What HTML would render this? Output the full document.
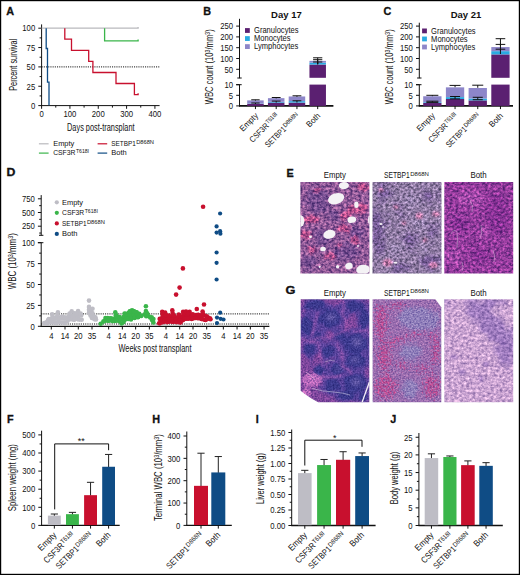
<!DOCTYPE html>
<html><head><meta charset="utf-8"><title>Figure</title>
<style>
html,body{margin:0;padding:0;background:#fff;}
body{width:520px;height:575px;overflow:hidden;position:relative;}
svg{display:block;position:absolute;left:0;top:0;}
text{font-family:"Liberation Sans",sans-serif;fill:#111;}
</style></head><body>
<svg width="520" height="575" viewBox="0 0 520 575">
<rect x="0" y="0" width="520" height="575" fill="#fff"/>
<text transform="translate(6.30 15.10)" font-size="10.8" font-weight="bold" stroke="#111" stroke-width="0.3">A</text>
<line x1="41.60" y1="24.40" x2="41.60" y2="106.10" stroke="#111" stroke-width="1"/>
<line x1="41.10" y1="105.60" x2="159.60" y2="105.60" stroke="#111" stroke-width="1"/>
<line x1="38.30" y1="105.60" x2="41.60" y2="105.60" stroke="#111" stroke-width="1"/>
<text transform="translate(35.20 108.87) scale(0.84 1)" font-size="9.2" text-anchor="end">0</text>
<line x1="38.30" y1="86.25" x2="41.60" y2="86.25" stroke="#111" stroke-width="1"/>
<text transform="translate(35.20 89.52) scale(0.84 1)" font-size="9.2" text-anchor="end">25</text>
<line x1="38.30" y1="66.90" x2="41.60" y2="66.90" stroke="#111" stroke-width="1"/>
<text transform="translate(35.20 70.17) scale(0.84 1)" font-size="9.2" text-anchor="end">50</text>
<line x1="38.30" y1="47.55" x2="41.60" y2="47.55" stroke="#111" stroke-width="1"/>
<text transform="translate(35.20 50.82) scale(0.84 1)" font-size="9.2" text-anchor="end">75</text>
<line x1="38.30" y1="28.20" x2="41.60" y2="28.20" stroke="#111" stroke-width="1"/>
<text transform="translate(35.20 31.47) scale(0.84 1)" font-size="9.2" text-anchor="end">100</text>
<line x1="39.60" y1="95.92" x2="41.60" y2="95.92" stroke="#111" stroke-width="1"/>
<line x1="39.60" y1="76.58" x2="41.60" y2="76.58" stroke="#111" stroke-width="1"/>
<line x1="39.60" y1="57.23" x2="41.60" y2="57.23" stroke="#111" stroke-width="1"/>
<line x1="39.60" y1="37.88" x2="41.60" y2="37.88" stroke="#111" stroke-width="1"/>
<line x1="41.60" y1="105.60" x2="41.60" y2="108.80" stroke="#111" stroke-width="1"/>
<text transform="translate(41.60 116.70) scale(0.84 1)" font-size="9.2" text-anchor="middle">0</text>
<line x1="69.93" y1="105.60" x2="69.93" y2="108.80" stroke="#111" stroke-width="1"/>
<text transform="translate(69.93 116.70) scale(0.84 1)" font-size="9.2" text-anchor="middle">100</text>
<line x1="98.26" y1="105.60" x2="98.26" y2="108.80" stroke="#111" stroke-width="1"/>
<text transform="translate(98.26 116.70) scale(0.84 1)" font-size="9.2" text-anchor="middle">200</text>
<line x1="126.59" y1="105.60" x2="126.59" y2="108.80" stroke="#111" stroke-width="1"/>
<text transform="translate(126.59 116.70) scale(0.84 1)" font-size="9.2" text-anchor="middle">300</text>
<line x1="154.92" y1="105.60" x2="154.92" y2="108.80" stroke="#111" stroke-width="1"/>
<text transform="translate(154.92 116.70) scale(0.84 1)" font-size="9.2" text-anchor="middle">400</text>
<line x1="55.77" y1="105.60" x2="55.77" y2="107.60" stroke="#111" stroke-width="1"/>
<line x1="84.09" y1="105.60" x2="84.09" y2="107.60" stroke="#111" stroke-width="1"/>
<line x1="112.43" y1="105.60" x2="112.43" y2="107.60" stroke="#111" stroke-width="1"/>
<line x1="140.75" y1="105.60" x2="140.75" y2="107.60" stroke="#111" stroke-width="1"/>
<line x1="41.60" y1="66.90" x2="160.40" y2="66.90" stroke="#111" stroke-width="1" stroke-dasharray="1.1 1.1"/>
<polyline points="41.60,28.20 138.10,28.20 138.10,27.00" fill="none" stroke="#b9b9bd" stroke-width="1.3" stroke-linejoin="miter"/>
<polyline points="104.60,28.20 104.60,40.80 138.10,40.80 138.10,39.60" fill="none" stroke="#3ab54a" stroke-width="1.3" stroke-linejoin="miter"/>
<polyline points="64.80,28.20 64.80,39.20 71.50,39.20 71.50,50.40 88.70,50.40 88.70,61.30 92.90,61.30 92.90,72.50 116.00,72.50 116.00,83.50 134.40,83.50 134.40,94.60 138.10,94.60 138.10,93.20" fill="none" stroke="#c8102e" stroke-width="1.3" stroke-linejoin="miter"/>
<polyline points="46.20,28.20 46.20,48.50 47.50,48.50 47.50,82.10 49.00,82.10 49.00,105.20" fill="none" stroke="#0f4c85" stroke-width="1.3" stroke-linejoin="miter"/>
<text transform="translate(100.80 131.00)" font-size="10.6" text-anchor="middle" textLength="67.50" lengthAdjust="spacingAndGlyphs">Days post-transplant</text>
<line x1="38.90" y1="143.80" x2="48.60" y2="143.80" stroke="#b9b9bd" stroke-width="1.2"/>
<g transform="translate(53.20 146.10)"><text transform="translate(0.00 0) scale(0.93 1)" font-size="8.0">Empty</text></g>
<line x1="38.90" y1="153.10" x2="48.60" y2="153.10" stroke="#3ab54a" stroke-width="1.2"/>
<g transform="translate(53.20 155.20)"><text transform="translate(0.00 0) scale(0.85 1)" font-size="8.0">CSF3R</text><text transform="translate(22.69 -2.32) scale(0.87 1)" font-size="5.92">T618I</text></g>
<line x1="97.60" y1="143.80" x2="107.20" y2="143.80" stroke="#c8102e" stroke-width="1.2"/>
<g transform="translate(111.20 146.10)"><text transform="translate(0.00 0) scale(0.8 1)" font-size="8.0">SETBP1</text><text transform="translate(24.94 -2.32) scale(0.97 1)" font-size="5.92">D868N</text></g>
<line x1="97.60" y1="153.10" x2="107.20" y2="153.10" stroke="#0f4c85" stroke-width="1.2"/>
<g transform="translate(111.20 155.20)"><text transform="translate(0.00 0) scale(0.94 1)" font-size="8.0">Both</text></g>
<text transform="translate(16.60 64.80) rotate(-90)" font-size="10.4" text-anchor="middle" textLength="52.00" lengthAdjust="spacingAndGlyphs">Percent survival</text>
<text transform="translate(203.30 15.10)" font-size="10.8" font-weight="bold" stroke="#111" stroke-width="0.3">B</text>
<text transform="translate(286.40 17.60)" font-size="9.5" text-anchor="middle" font-weight="bold">Day 17</text>
<line x1="239.50" y1="18.80" x2="239.50" y2="78.20" stroke="#111" stroke-width="1"/>
<line x1="237.30" y1="78.00" x2="241.70" y2="78.00" stroke="#111" stroke-width="1"/>
<line x1="239.50" y1="84.70" x2="239.50" y2="106.40" stroke="#111" stroke-width="1"/>
<line x1="236.20" y1="84.70" x2="241.70" y2="84.70" stroke="#111" stroke-width="1"/>
<line x1="239.00" y1="105.90" x2="333.40" y2="105.90" stroke="#111" stroke-width="1.8"/>
<line x1="236.20" y1="69.30" x2="239.50" y2="69.30" stroke="#111" stroke-width="1"/>
<text transform="translate(233.10 72.57) scale(0.84 1)" font-size="9.2" text-anchor="end">50</text>
<line x1="236.20" y1="58.50" x2="239.50" y2="58.50" stroke="#111" stroke-width="1"/>
<text transform="translate(233.10 61.77) scale(0.84 1)" font-size="9.2" text-anchor="end">100</text>
<line x1="236.20" y1="47.70" x2="239.50" y2="47.70" stroke="#111" stroke-width="1"/>
<text transform="translate(233.10 50.97) scale(0.84 1)" font-size="9.2" text-anchor="end">150</text>
<line x1="236.20" y1="36.90" x2="239.50" y2="36.90" stroke="#111" stroke-width="1"/>
<text transform="translate(233.10 40.17) scale(0.84 1)" font-size="9.2" text-anchor="end">200</text>
<line x1="236.20" y1="26.10" x2="239.50" y2="26.10" stroke="#111" stroke-width="1"/>
<text transform="translate(233.10 29.37) scale(0.84 1)" font-size="9.2" text-anchor="end">250</text>
<line x1="236.20" y1="105.90" x2="239.50" y2="105.90" stroke="#111" stroke-width="1"/>
<text transform="translate(233.10 109.17) scale(0.84 1)" font-size="9.2" text-anchor="end">0</text>
<line x1="236.20" y1="95.30" x2="239.50" y2="95.30" stroke="#111" stroke-width="1"/>
<text transform="translate(233.10 98.57) scale(0.84 1)" font-size="9.2" text-anchor="end">5</text>
<line x1="236.20" y1="84.70" x2="239.50" y2="84.70" stroke="#111" stroke-width="1"/>
<text transform="translate(233.10 87.97) scale(0.84 1)" font-size="9.2" text-anchor="end">10</text>
<text transform="translate(213.20 66.80) rotate(-90)" font-size="10.4" text-anchor="middle" textLength="75.00" lengthAdjust="spacingAndGlyphs">WBC count (10<tspan dy="-3.2" font-size="7">3</tspan><tspan dy="3.2">/mm</tspan><tspan dy="-3.2" font-size="7">3</tspan><tspan dy="3.2">)</tspan></text>
<rect x="245.00" y="28.10" width="4.80" height="4.80" fill="#5b2071"/>
<text transform="translate(254.00 33.10) scale(0.9 1)" font-size="8.4">Granulocytes</text>
<rect x="245.00" y="36.15" width="4.80" height="4.80" fill="#29abe2"/>
<text transform="translate(254.00 41.15) scale(0.9 1)" font-size="8.4">Monocytes</text>
<rect x="245.00" y="44.20" width="4.80" height="4.80" fill="#8d86c9"/>
<text transform="translate(254.00 49.20) scale(0.9 1)" font-size="8.4">Lymphocytes</text>
<line x1="255.45" y1="105.90" x2="255.45" y2="109.10" stroke="#111" stroke-width="1"/>
<rect x="247.20" y="103.78" width="16.50" height="2.12" fill="#5b2071"/>
<rect x="247.20" y="103.46" width="16.50" height="0.32" fill="#29abe2"/>
<rect x="247.20" y="100.39" width="16.50" height="3.07" fill="#8d86c9"/>
<line x1="255.45" y1="99.80" x2="255.45" y2="100.60" stroke="#111" stroke-width="1"/>
<line x1="251.25" y1="99.80" x2="259.65" y2="99.80" stroke="#111" stroke-width="1"/>
<line x1="255.45" y1="103.00" x2="255.45" y2="104.00" stroke="#111" stroke-width="1"/>
<line x1="251.25" y1="103.00" x2="259.65" y2="103.00" stroke="#111" stroke-width="1"/>
<line x1="276.20" y1="105.90" x2="276.20" y2="109.10" stroke="#111" stroke-width="1"/>
<rect x="267.95" y="102.61" width="16.50" height="3.29" fill="#5b2071"/>
<rect x="267.95" y="101.77" width="16.50" height="0.85" fill="#29abe2"/>
<rect x="267.95" y="98.16" width="16.50" height="3.60" fill="#8d86c9"/>
<line x1="276.20" y1="97.50" x2="276.20" y2="98.40" stroke="#111" stroke-width="1"/>
<line x1="271.80" y1="97.50" x2="280.60" y2="97.50" stroke="#111" stroke-width="1"/>
<line x1="276.20" y1="101.10" x2="276.20" y2="102.60" stroke="#111" stroke-width="1"/>
<line x1="271.80" y1="101.10" x2="280.60" y2="101.10" stroke="#111" stroke-width="1"/>
<line x1="296.95" y1="105.90" x2="296.95" y2="109.10" stroke="#111" stroke-width="1"/>
<rect x="288.70" y="102.61" width="16.50" height="3.29" fill="#5b2071"/>
<rect x="288.70" y="101.13" width="16.50" height="1.48" fill="#29abe2"/>
<rect x="288.70" y="96.47" width="16.50" height="4.66" fill="#8d86c9"/>
<line x1="296.95" y1="95.80" x2="296.95" y2="96.80" stroke="#111" stroke-width="1"/>
<line x1="292.55" y1="95.80" x2="301.35" y2="95.80" stroke="#111" stroke-width="1"/>
<line x1="296.95" y1="100.80" x2="296.95" y2="102.50" stroke="#111" stroke-width="1"/>
<line x1="292.55" y1="100.80" x2="301.35" y2="100.80" stroke="#111" stroke-width="1"/>
<line x1="317.70" y1="105.90" x2="317.70" y2="109.10" stroke="#111" stroke-width="1"/>
<rect x="309.45" y="84.60" width="16.50" height="21.30" fill="#5b2071"/>
<rect x="309.45" y="64.55" width="16.50" height="13.25" fill="#5b2071"/>
<rect x="309.45" y="62.60" width="16.50" height="1.94" fill="#29abe2"/>
<rect x="309.45" y="60.88" width="16.50" height="1.73" fill="#8d86c9"/>
<line x1="317.70" y1="57.80" x2="317.70" y2="64.60" stroke="#111" stroke-width="1"/>
<line x1="313.10" y1="57.80" x2="322.30" y2="57.80" stroke="#111" stroke-width="1"/>
<line x1="317.70" y1="59.70" x2="317.70" y2="64.00" stroke="#111" stroke-width="1"/>
<line x1="313.10" y1="59.70" x2="322.30" y2="59.70" stroke="#111" stroke-width="1"/>
<line x1="317.70" y1="62.00" x2="317.70" y2="64.00" stroke="#111" stroke-width="1"/>
<line x1="313.10" y1="62.00" x2="322.30" y2="62.00" stroke="#111" stroke-width="1"/>
<g transform="translate(258.65 116.30) rotate(-45)"><text transform="translate(-22.14 0) scale(0.93 1)" font-size="8.4">Empty</text></g>
<g transform="translate(279.40 116.30) rotate(-45)"><text transform="translate(-37.63 0) scale(0.85 1)" font-size="8.4">CSF3R</text><text transform="translate(-13.83 -2.44) scale(0.87 1)" font-size="6.22">T618I</text></g>
<g transform="translate(300.15 116.30) rotate(-45)"><text transform="translate(-44.94 0) scale(0.8 1)" font-size="8.4">SETBP1</text><text transform="translate(-18.77 -2.44) scale(0.97 1)" font-size="6.22">D868N</text></g>
<g transform="translate(320.90 116.30) rotate(-45)"><text transform="translate(-16.24 0) scale(0.94 1)" font-size="8.4">Both</text></g>
<text transform="translate(383.40 15.10)" font-size="10.8" font-weight="bold" stroke="#111" stroke-width="0.3">C</text>
<text transform="translate(466.00 17.60)" font-size="9.5" text-anchor="middle" font-weight="bold">Day 21</text>
<line x1="419.30" y1="22.70" x2="419.30" y2="78.20" stroke="#111" stroke-width="1"/>
<line x1="417.10" y1="78.00" x2="421.50" y2="78.00" stroke="#111" stroke-width="1"/>
<line x1="419.30" y1="84.70" x2="419.30" y2="106.40" stroke="#111" stroke-width="1"/>
<line x1="416.00" y1="84.70" x2="421.50" y2="84.70" stroke="#111" stroke-width="1"/>
<line x1="418.80" y1="105.90" x2="513.00" y2="105.90" stroke="#111" stroke-width="1.8"/>
<line x1="416.00" y1="69.30" x2="419.30" y2="69.30" stroke="#111" stroke-width="1"/>
<text transform="translate(412.90 72.57) scale(0.84 1)" font-size="9.2" text-anchor="end">50</text>
<line x1="416.00" y1="58.50" x2="419.30" y2="58.50" stroke="#111" stroke-width="1"/>
<text transform="translate(412.90 61.77) scale(0.84 1)" font-size="9.2" text-anchor="end">100</text>
<line x1="416.00" y1="47.70" x2="419.30" y2="47.70" stroke="#111" stroke-width="1"/>
<text transform="translate(412.90 50.97) scale(0.84 1)" font-size="9.2" text-anchor="end">150</text>
<line x1="416.00" y1="36.90" x2="419.30" y2="36.90" stroke="#111" stroke-width="1"/>
<text transform="translate(412.90 40.17) scale(0.84 1)" font-size="9.2" text-anchor="end">200</text>
<line x1="416.00" y1="26.10" x2="419.30" y2="26.10" stroke="#111" stroke-width="1"/>
<text transform="translate(412.90 29.37) scale(0.84 1)" font-size="9.2" text-anchor="end">250</text>
<line x1="416.00" y1="105.90" x2="419.30" y2="105.90" stroke="#111" stroke-width="1"/>
<text transform="translate(412.90 109.17) scale(0.84 1)" font-size="9.2" text-anchor="end">0</text>
<line x1="416.00" y1="95.30" x2="419.30" y2="95.30" stroke="#111" stroke-width="1"/>
<text transform="translate(412.90 98.57) scale(0.84 1)" font-size="9.2" text-anchor="end">5</text>
<line x1="416.00" y1="84.70" x2="419.30" y2="84.70" stroke="#111" stroke-width="1"/>
<text transform="translate(412.90 87.97) scale(0.84 1)" font-size="9.2" text-anchor="end">10</text>
<text transform="translate(393.40 66.80) rotate(-90)" font-size="10.4" text-anchor="middle" textLength="75.00" lengthAdjust="spacingAndGlyphs">WBC count (10<tspan dy="-3.2" font-size="7">3</tspan><tspan dy="3.2">/mm</tspan><tspan dy="-3.2" font-size="7">3</tspan><tspan dy="3.2">)</tspan></text>
<rect x="422.10" y="28.50" width="4.80" height="4.80" fill="#5b2071"/>
<text transform="translate(431.10 33.50) scale(0.9 1)" font-size="8.4">Granulocytes</text>
<rect x="422.10" y="36.55" width="4.80" height="4.80" fill="#29abe2"/>
<text transform="translate(431.10 41.55) scale(0.9 1)" font-size="8.4">Monocytes</text>
<rect x="422.10" y="44.60" width="4.80" height="4.80" fill="#8d86c9"/>
<text transform="translate(431.10 49.60) scale(0.9 1)" font-size="8.4">Lymphocytes</text>
<line x1="432.35" y1="105.90" x2="432.35" y2="109.10" stroke="#111" stroke-width="1"/>
<rect x="423.20" y="102.93" width="18.30" height="2.97" fill="#5b2071"/>
<rect x="423.20" y="102.19" width="18.30" height="0.74" fill="#29abe2"/>
<rect x="423.20" y="96.25" width="18.30" height="5.94" fill="#8d86c9"/>
<line x1="432.35" y1="95.30" x2="432.35" y2="96.20" stroke="#111" stroke-width="1"/>
<line x1="426.35" y1="95.30" x2="438.35" y2="95.30" stroke="#111" stroke-width="1"/>
<line x1="432.35" y1="101.20" x2="432.35" y2="102.40" stroke="#111" stroke-width="1"/>
<line x1="426.35" y1="101.20" x2="438.35" y2="101.20" stroke="#111" stroke-width="1"/>
<line x1="426.35" y1="102.40" x2="438.35" y2="102.40" stroke="#111" stroke-width="1"/>
<line x1="455.05" y1="105.90" x2="455.05" y2="109.10" stroke="#111" stroke-width="1"/>
<rect x="445.90" y="99.01" width="18.30" height="6.89" fill="#5b2071"/>
<rect x="445.90" y="97.10" width="18.30" height="1.91" fill="#29abe2"/>
<rect x="445.90" y="87.35" width="18.30" height="9.75" fill="#8d86c9"/>
<line x1="455.05" y1="85.40" x2="455.05" y2="87.20" stroke="#111" stroke-width="1"/>
<line x1="449.55" y1="85.40" x2="460.55" y2="85.40" stroke="#111" stroke-width="1"/>
<line x1="455.05" y1="96.50" x2="455.05" y2="98.90" stroke="#111" stroke-width="1"/>
<line x1="450.05" y1="96.50" x2="460.05" y2="96.50" stroke="#111" stroke-width="1"/>
<line x1="450.05" y1="98.90" x2="460.05" y2="98.90" stroke="#111" stroke-width="1"/>
<line x1="477.75" y1="105.90" x2="477.75" y2="109.10" stroke="#111" stroke-width="1"/>
<rect x="468.60" y="100.39" width="18.30" height="5.51" fill="#5b2071"/>
<rect x="468.60" y="98.48" width="18.30" height="1.91" fill="#29abe2"/>
<rect x="468.60" y="87.99" width="18.30" height="10.49" fill="#8d86c9"/>
<line x1="477.75" y1="85.20" x2="477.75" y2="87.80" stroke="#111" stroke-width="1"/>
<line x1="472.25" y1="85.20" x2="483.25" y2="85.20" stroke="#111" stroke-width="1"/>
<line x1="477.75" y1="97.30" x2="477.75" y2="99.70" stroke="#111" stroke-width="1"/>
<line x1="472.75" y1="97.30" x2="482.75" y2="97.30" stroke="#111" stroke-width="1"/>
<line x1="472.75" y1="99.70" x2="482.75" y2="99.70" stroke="#111" stroke-width="1"/>
<line x1="500.45" y1="105.90" x2="500.45" y2="109.10" stroke="#111" stroke-width="1"/>
<rect x="491.30" y="84.60" width="18.30" height="21.30" fill="#5b2071"/>
<rect x="491.30" y="54.40" width="18.30" height="23.40" fill="#5b2071"/>
<rect x="491.30" y="51.16" width="18.30" height="3.24" fill="#29abe2"/>
<rect x="491.30" y="47.05" width="18.30" height="4.10" fill="#8d86c9"/>
<line x1="500.45" y1="38.70" x2="500.45" y2="54.00" stroke="#111" stroke-width="1"/>
<line x1="495.65" y1="38.70" x2="505.25" y2="38.70" stroke="#111" stroke-width="1"/>
<line x1="500.45" y1="44.40" x2="500.45" y2="46.00" stroke="#111" stroke-width="1"/>
<line x1="495.65" y1="44.40" x2="505.25" y2="44.40" stroke="#111" stroke-width="1"/>
<line x1="500.45" y1="49.20" x2="500.45" y2="51.00" stroke="#111" stroke-width="1"/>
<line x1="495.65" y1="49.20" x2="505.25" y2="49.20" stroke="#111" stroke-width="1"/>
<g transform="translate(435.55 116.30) rotate(-45)"><text transform="translate(-22.14 0) scale(0.93 1)" font-size="8.4">Empty</text></g>
<g transform="translate(458.25 116.30) rotate(-45)"><text transform="translate(-37.63 0) scale(0.85 1)" font-size="8.4">CSF3R</text><text transform="translate(-13.83 -2.44) scale(0.87 1)" font-size="6.22">T618I</text></g>
<g transform="translate(480.95 116.30) rotate(-45)"><text transform="translate(-44.94 0) scale(0.8 1)" font-size="8.4">SETBP1</text><text transform="translate(-18.77 -2.44) scale(0.97 1)" font-size="6.22">D868N</text></g>
<g transform="translate(503.65 116.30) rotate(-45)"><text transform="translate(-16.24 0) scale(0.94 1)" font-size="8.4">Both</text></g>
<text transform="translate(6.60 175.90) scale(1.12 1)" font-size="11.0" font-weight="bold" stroke="#111" stroke-width="0.3">D</text>
<line x1="41.20" y1="195.10" x2="41.20" y2="235.30" stroke="#111" stroke-width="1"/>
<line x1="39.00" y1="235.30" x2="43.40" y2="235.30" stroke="#111" stroke-width="1"/>
<line x1="39.20" y1="233.05" x2="41.20" y2="233.05" stroke="#111" stroke-width="1"/>
<line x1="39.20" y1="219.35" x2="41.20" y2="219.35" stroke="#111" stroke-width="1"/>
<line x1="39.20" y1="205.65" x2="41.20" y2="205.65" stroke="#111" stroke-width="1"/>
<line x1="41.20" y1="242.70" x2="41.20" y2="326.80" stroke="#111" stroke-width="1"/>
<line x1="37.90" y1="242.70" x2="43.40" y2="242.70" stroke="#111" stroke-width="1"/>
<line x1="40.70" y1="326.30" x2="269.40" y2="326.30" stroke="#111" stroke-width="1.3"/>
<line x1="37.90" y1="226.20" x2="41.20" y2="226.20" stroke="#111" stroke-width="1"/>
<text transform="translate(34.80 229.47) scale(0.84 1)" font-size="9.2" text-anchor="end">250</text>
<line x1="37.90" y1="212.50" x2="41.20" y2="212.50" stroke="#111" stroke-width="1"/>
<text transform="translate(34.80 215.77) scale(0.84 1)" font-size="9.2" text-anchor="end">500</text>
<line x1="37.90" y1="198.80" x2="41.20" y2="198.80" stroke="#111" stroke-width="1"/>
<text transform="translate(34.80 202.07) scale(0.84 1)" font-size="9.2" text-anchor="end">750</text>
<line x1="37.90" y1="326.30" x2="41.20" y2="326.30" stroke="#111" stroke-width="1"/>
<text transform="translate(34.80 329.57) scale(0.84 1)" font-size="9.2" text-anchor="end">0</text>
<line x1="37.90" y1="305.40" x2="41.20" y2="305.40" stroke="#111" stroke-width="1"/>
<text transform="translate(34.80 308.67) scale(0.84 1)" font-size="9.2" text-anchor="end">25</text>
<line x1="37.90" y1="284.50" x2="41.20" y2="284.50" stroke="#111" stroke-width="1"/>
<text transform="translate(34.80 287.77) scale(0.84 1)" font-size="9.2" text-anchor="end">50</text>
<line x1="37.90" y1="263.60" x2="41.20" y2="263.60" stroke="#111" stroke-width="1"/>
<text transform="translate(34.80 266.87) scale(0.84 1)" font-size="9.2" text-anchor="end">75</text>
<line x1="37.90" y1="242.70" x2="41.20" y2="242.70" stroke="#111" stroke-width="1"/>
<text transform="translate(34.80 245.97) scale(0.84 1)" font-size="9.2" text-anchor="end">100</text>
<line x1="39.20" y1="315.85" x2="41.20" y2="315.85" stroke="#111" stroke-width="1"/>
<line x1="39.20" y1="294.95" x2="41.20" y2="294.95" stroke="#111" stroke-width="1"/>
<line x1="39.20" y1="274.05" x2="41.20" y2="274.05" stroke="#111" stroke-width="1"/>
<line x1="39.20" y1="253.15" x2="41.20" y2="253.15" stroke="#111" stroke-width="1"/>
<text transform="translate(16.40 261.20) rotate(-90)" font-size="10.2" text-anchor="middle" textLength="56.00" lengthAdjust="spacingAndGlyphs">WBC (10<tspan dy="-3.2" font-size="7">3</tspan><tspan dy="3.2">/mm</tspan><tspan dy="-3.2" font-size="7">3</tspan><tspan dy="3.2">)</tspan></text>
<line x1="51.30" y1="326.30" x2="51.30" y2="329.50" stroke="#111" stroke-width="1"/>
<text transform="translate(51.30 338.90) scale(0.84 1)" font-size="9.2" text-anchor="middle">4</text>
<line x1="65.00" y1="326.30" x2="65.00" y2="329.50" stroke="#111" stroke-width="1"/>
<text transform="translate(65.00 338.90) scale(0.84 1)" font-size="9.2" text-anchor="middle">14</text>
<line x1="78.30" y1="326.30" x2="78.30" y2="329.50" stroke="#111" stroke-width="1"/>
<text transform="translate(78.30 338.90) scale(0.84 1)" font-size="9.2" text-anchor="middle">20</text>
<line x1="92.00" y1="326.30" x2="92.00" y2="329.50" stroke="#111" stroke-width="1"/>
<text transform="translate(92.00 338.90) scale(0.84 1)" font-size="9.2" text-anchor="middle">35</text>
<line x1="108.65" y1="326.30" x2="108.65" y2="329.50" stroke="#111" stroke-width="1"/>
<text transform="translate(108.65 338.90) scale(0.84 1)" font-size="9.2" text-anchor="middle">4</text>
<line x1="122.35" y1="326.30" x2="122.35" y2="329.50" stroke="#111" stroke-width="1"/>
<text transform="translate(122.35 338.90) scale(0.84 1)" font-size="9.2" text-anchor="middle">14</text>
<line x1="135.65" y1="326.30" x2="135.65" y2="329.50" stroke="#111" stroke-width="1"/>
<text transform="translate(135.65 338.90) scale(0.84 1)" font-size="9.2" text-anchor="middle">20</text>
<line x1="149.35" y1="326.30" x2="149.35" y2="329.50" stroke="#111" stroke-width="1"/>
<text transform="translate(149.35 338.90) scale(0.84 1)" font-size="9.2" text-anchor="middle">35</text>
<line x1="166.00" y1="326.30" x2="166.00" y2="329.50" stroke="#111" stroke-width="1"/>
<text transform="translate(166.00 338.90) scale(0.84 1)" font-size="9.2" text-anchor="middle">4</text>
<line x1="179.70" y1="326.30" x2="179.70" y2="329.50" stroke="#111" stroke-width="1"/>
<text transform="translate(179.70 338.90) scale(0.84 1)" font-size="9.2" text-anchor="middle">14</text>
<line x1="193.00" y1="326.30" x2="193.00" y2="329.50" stroke="#111" stroke-width="1"/>
<text transform="translate(193.00 338.90) scale(0.84 1)" font-size="9.2" text-anchor="middle">20</text>
<line x1="206.70" y1="326.30" x2="206.70" y2="329.50" stroke="#111" stroke-width="1"/>
<text transform="translate(206.70 338.90) scale(0.84 1)" font-size="9.2" text-anchor="middle">35</text>
<line x1="223.35" y1="326.30" x2="223.35" y2="329.50" stroke="#111" stroke-width="1"/>
<text transform="translate(223.35 338.90) scale(0.84 1)" font-size="9.2" text-anchor="middle">4</text>
<line x1="237.05" y1="326.30" x2="237.05" y2="329.50" stroke="#111" stroke-width="1"/>
<text transform="translate(237.05 338.90) scale(0.84 1)" font-size="9.2" text-anchor="middle">14</text>
<line x1="250.35" y1="326.30" x2="250.35" y2="329.50" stroke="#111" stroke-width="1"/>
<text transform="translate(250.35 338.90) scale(0.84 1)" font-size="9.2" text-anchor="middle">20</text>
<line x1="264.05" y1="326.30" x2="264.05" y2="329.50" stroke="#111" stroke-width="1"/>
<text transform="translate(264.05 338.90) scale(0.84 1)" font-size="9.2" text-anchor="middle">35</text>
<text transform="translate(155.00 352.30)" font-size="10.6" text-anchor="middle" textLength="73.00" lengthAdjust="spacingAndGlyphs">Weeks post transplant</text>
<circle cx="56.8" cy="202.30" r="2.1" fill="#bebdc5"/>
<g transform="translate(62.00 204.80)"><text transform="translate(0.00 0) scale(0.93 1)" font-size="8.0">Empty</text></g>
<circle cx="56.8" cy="212.85" r="2.1" fill="#3ab54a"/>
<g transform="translate(62.00 215.35)"><text transform="translate(0.00 0) scale(0.85 1)" font-size="8.0">CSF3R</text><text transform="translate(22.69 -2.32) scale(0.87 1)" font-size="5.92">T618I</text></g>
<circle cx="56.8" cy="223.40" r="2.1" fill="#c8102e"/>
<g transform="translate(62.00 225.90)"><text transform="translate(0.00 0) scale(0.8 1)" font-size="8.0">SETBP1</text><text transform="translate(24.94 -2.32) scale(0.97 1)" font-size="5.92">D868N</text></g>
<circle cx="56.8" cy="233.95" r="2.1" fill="#0f4c85"/>
<g transform="translate(62.00 236.45)"><text transform="translate(0.00 0) scale(0.94 1)" font-size="8.0">Both</text></g>
<line x1="41.20" y1="313.90" x2="269.40" y2="313.90" stroke="#111" stroke-width="1" stroke-dasharray="1.1 1.1"/>
<line x1="41.20" y1="324.00" x2="269.40" y2="324.00" stroke="#111" stroke-width="1" stroke-dasharray="1.1 1.1"/>
<g fill="#bebdc5"><circle cx="44.2" cy="323.0" r="2.3"/><circle cx="46.5" cy="322.2" r="2.3"/><circle cx="48.0" cy="320.2" r="2.3"/><circle cx="47.1" cy="323.6" r="2.3"/><circle cx="48.8" cy="319.0" r="2.3"/><circle cx="48.8" cy="322.5" r="2.3"/><circle cx="51.2" cy="319.1" r="2.3"/><circle cx="50.6" cy="322.4" r="2.3"/><circle cx="53.2" cy="319.1" r="2.3"/><circle cx="53.1" cy="322.4" r="2.3"/><circle cx="55.6" cy="317.9" r="2.3"/><circle cx="55.3" cy="322.2" r="2.3"/><circle cx="55.8" cy="318.0" r="2.3"/><circle cx="56.1" cy="322.9" r="2.3"/><circle cx="57.5" cy="318.6" r="2.3"/><circle cx="58.4" cy="322.3" r="2.3"/><circle cx="59.9" cy="317.9" r="2.3"/><circle cx="59.0" cy="322.1" r="2.3"/><circle cx="61.8" cy="318.4" r="2.3"/><circle cx="61.2" cy="322.6" r="2.3"/><circle cx="63.1" cy="318.2" r="2.3"/><circle cx="63.7" cy="322.8" r="2.3"/><circle cx="64.4" cy="318.6" r="2.3"/><circle cx="64.9" cy="323.0" r="2.3"/><circle cx="67.0" cy="317.8" r="2.3"/><circle cx="67.5" cy="321.0" r="2.3"/><circle cx="68.2" cy="317.3" r="2.3"/><circle cx="67.7" cy="319.9" r="2.3"/><circle cx="69.2" cy="316.0" r="2.3"/><circle cx="70.5" cy="319.3" r="2.3"/><circle cx="72.4" cy="315.5" r="2.3"/><circle cx="72.1" cy="319.3" r="2.3"/><circle cx="73.5" cy="315.7" r="2.3"/><circle cx="74.0" cy="319.8" r="2.3"/><circle cx="75.1" cy="316.0" r="2.3"/><circle cx="74.3" cy="319.5" r="2.3"/><circle cx="77.1" cy="316.5" r="2.3"/><circle cx="77.4" cy="318.9" r="2.3"/><circle cx="78.3" cy="316.0" r="2.3"/><circle cx="77.6" cy="319.1" r="2.3"/><circle cx="79.6" cy="315.3" r="2.3"/><circle cx="79.4" cy="319.6" r="2.3"/><circle cx="81.2" cy="315.4" r="2.3"/><circle cx="81.7" cy="319.7" r="2.3"/><circle cx="52.1" cy="314.2" r="2.3"/><circle cx="52.6" cy="316.6" r="2.3"/><circle cx="57.9" cy="312.3" r="2.3"/><circle cx="57.5" cy="315.3" r="2.3"/><circle cx="62.0" cy="316.6" r="2.3"/><circle cx="71.7" cy="311.2" r="2.3"/><circle cx="69.6" cy="313.6" r="2.3"/><circle cx="74.6" cy="313.4" r="2.3"/><circle cx="78.1" cy="311.0" r="2.3"/><circle cx="76.6" cy="313.6" r="2.3"/><circle cx="80.6" cy="313.6" r="2.3"/><circle cx="64.8" cy="317.2" r="2.3"/><circle cx="89.0" cy="300.6" r="2.3"/><circle cx="89.0" cy="306.9" r="2.3"/><circle cx="92.5" cy="308.7" r="2.3"/><circle cx="89.0" cy="309.7" r="2.3"/><circle cx="89.0" cy="312.7" r="2.3"/><circle cx="91.2" cy="311.5" r="2.3"/><circle cx="92.5" cy="313.2" r="2.3"/><circle cx="91.9" cy="317.9" r="2.3"/><circle cx="95.4" cy="317.3" r="2.3"/><circle cx="90.5" cy="315.6" r="2.3"/><circle cx="93.6" cy="316.2" r="2.3"/><circle cx="94.4" cy="319.3" r="2.3"/><circle cx="96.0" cy="319.5" r="2.3"/></g>
<g fill="#3ab54a"><circle cx="100.7" cy="323.7" r="2.3"/><circle cx="103.3" cy="321.6" r="2.3"/><circle cx="105.5" cy="318.1" r="2.3"/><circle cx="104.5" cy="320.9" r="2.3"/><circle cx="106.3" cy="318.9" r="2.3"/><circle cx="107.4" cy="320.3" r="2.3"/><circle cx="107.7" cy="318.1" r="2.3"/><circle cx="107.8" cy="320.8" r="2.3"/><circle cx="110.2" cy="318.2" r="2.3"/><circle cx="109.1" cy="320.7" r="2.3"/><circle cx="111.5" cy="318.6" r="2.3"/><circle cx="112.5" cy="321.1" r="2.3"/><circle cx="113.4" cy="318.7" r="2.3"/><circle cx="113.7" cy="320.2" r="2.3"/><circle cx="115.8" cy="314.9" r="2.3"/><circle cx="115.8" cy="318.2" r="2.3"/><circle cx="114.9" cy="320.9" r="2.3"/><circle cx="116.1" cy="315.4" r="2.3"/><circle cx="116.0" cy="317.5" r="2.3"/><circle cx="116.3" cy="320.5" r="2.3"/><circle cx="118.2" cy="316.7" r="2.3"/><circle cx="117.6" cy="320.3" r="2.3"/><circle cx="119.5" cy="317.1" r="2.3"/><circle cx="119.3" cy="321.3" r="2.3"/><circle cx="122.1" cy="319.0" r="2.3"/><circle cx="121.5" cy="323.5" r="2.3"/><circle cx="123.4" cy="317.0" r="2.3"/><circle cx="124.2" cy="320.5" r="2.3"/><circle cx="123.5" cy="322.1" r="2.3"/><circle cx="124.6" cy="313.6" r="2.3"/><circle cx="125.0" cy="316.6" r="2.3"/><circle cx="125.9" cy="319.2" r="2.3"/><circle cx="126.1" cy="313.8" r="2.3"/><circle cx="127.1" cy="315.8" r="2.3"/><circle cx="127.1" cy="318.7" r="2.3"/><circle cx="128.8" cy="312.9" r="2.3"/><circle cx="129.4" cy="315.9" r="2.3"/><circle cx="128.3" cy="318.9" r="2.3"/><circle cx="129.8" cy="311.8" r="2.3"/><circle cx="130.5" cy="314.3" r="2.3"/><circle cx="130.1" cy="315.9" r="2.3"/><circle cx="131.0" cy="319.5" r="2.3"/><circle cx="132.7" cy="311.1" r="2.3"/><circle cx="132.7" cy="313.6" r="2.3"/><circle cx="131.6" cy="315.9" r="2.3"/><circle cx="131.8" cy="317.8" r="2.3"/><circle cx="133.0" cy="311.0" r="2.3"/><circle cx="133.4" cy="315.0" r="2.3"/><circle cx="134.6" cy="318.0" r="2.3"/><circle cx="136.3" cy="312.6" r="2.3"/><circle cx="136.3" cy="314.6" r="2.3"/><circle cx="135.0" cy="317.3" r="2.3"/><circle cx="136.7" cy="312.2" r="2.3"/><circle cx="137.4" cy="315.5" r="2.3"/><circle cx="137.8" cy="317.2" r="2.3"/><circle cx="139.2" cy="313.8" r="2.3"/><circle cx="138.2" cy="317.0" r="2.3"/><circle cx="141.3" cy="315.9" r="2.3"/><circle cx="115.3" cy="312.2" r="2.3"/><circle cx="132.0" cy="310.4" r="2.3"/><circle cx="129.8" cy="311.4" r="2.3"/><circle cx="134.2" cy="311.2" r="2.3"/><circle cx="145.9" cy="306.3" r="2.3"/><circle cx="145.9" cy="311.0" r="2.3"/><circle cx="144.7" cy="314.4" r="2.3"/><circle cx="147.2" cy="313.2" r="2.3"/><circle cx="146.2" cy="316.3" r="2.3"/><circle cx="148.8" cy="316.2" r="2.3"/><circle cx="150.2" cy="317.6" r="2.3"/><circle cx="151.7" cy="317.3" r="2.3"/><circle cx="153.4" cy="319.0" r="2.3"/><circle cx="152.2" cy="320.2" r="2.3"/><circle cx="153.4" cy="322.5" r="2.3"/></g>
<g fill="#c8102e"><circle cx="159.1" cy="323.2" r="2.3"/><circle cx="159.7" cy="318.9" r="2.3"/><circle cx="160.0" cy="323.2" r="2.3"/><circle cx="162.8" cy="316.4" r="2.3"/><circle cx="161.8" cy="319.9" r="2.3"/><circle cx="162.4" cy="321.5" r="2.3"/><circle cx="163.0" cy="316.2" r="2.3"/><circle cx="164.4" cy="319.6" r="2.3"/><circle cx="163.1" cy="322.2" r="2.3"/><circle cx="166.3" cy="317.0" r="2.3"/><circle cx="165.1" cy="319.3" r="2.3"/><circle cx="164.7" cy="320.9" r="2.3"/><circle cx="167.9" cy="317.0" r="2.3"/><circle cx="167.1" cy="319.8" r="2.3"/><circle cx="167.0" cy="322.1" r="2.3"/><circle cx="169.4" cy="316.5" r="2.3"/><circle cx="168.4" cy="318.9" r="2.3"/><circle cx="168.3" cy="321.7" r="2.3"/><circle cx="170.1" cy="316.8" r="2.3"/><circle cx="169.8" cy="319.8" r="2.3"/><circle cx="170.2" cy="321.5" r="2.3"/><circle cx="172.4" cy="317.5" r="2.3"/><circle cx="172.1" cy="319.9" r="2.3"/><circle cx="172.2" cy="321.6" r="2.3"/><circle cx="173.9" cy="316.3" r="2.3"/><circle cx="173.8" cy="318.8" r="2.3"/><circle cx="173.0" cy="322.0" r="2.3"/><circle cx="175.0" cy="317.0" r="2.3"/><circle cx="176.0" cy="319.4" r="2.3"/><circle cx="175.3" cy="321.6" r="2.3"/><circle cx="177.4" cy="317.7" r="2.3"/><circle cx="176.6" cy="319.9" r="2.3"/><circle cx="176.8" cy="322.1" r="2.3"/><circle cx="179.5" cy="317.3" r="2.3"/><circle cx="179.1" cy="320.2" r="2.3"/><circle cx="179.7" cy="322.3" r="2.3"/><circle cx="180.9" cy="317.3" r="2.3"/><circle cx="180.7" cy="320.1" r="2.3"/><circle cx="180.6" cy="322.4" r="2.3"/><circle cx="182.4" cy="316.3" r="2.3"/><circle cx="182.8" cy="320.3" r="2.3"/><circle cx="184.9" cy="315.2" r="2.3"/><circle cx="184.2" cy="319.1" r="2.3"/><circle cx="186.4" cy="315.0" r="2.3"/><circle cx="185.1" cy="318.4" r="2.3"/><circle cx="186.7" cy="315.1" r="2.3"/><circle cx="186.7" cy="318.7" r="2.3"/><circle cx="189.7" cy="316.0" r="2.3"/><circle cx="188.6" cy="318.7" r="2.3"/><circle cx="191.2" cy="314.9" r="2.3"/><circle cx="191.6" cy="319.0" r="2.3"/><circle cx="192.1" cy="316.0" r="2.3"/><circle cx="192.4" cy="318.3" r="2.3"/><circle cx="195.2" cy="315.9" r="2.3"/><circle cx="193.7" cy="318.2" r="2.3"/><circle cx="196.0" cy="315.1" r="2.3"/><circle cx="195.5" cy="318.0" r="2.3"/><circle cx="198.1" cy="314.7" r="2.3"/><circle cx="197.8" cy="318.2" r="2.3"/><circle cx="198.5" cy="315.1" r="2.3"/><circle cx="199.6" cy="318.3" r="2.3"/><circle cx="200.3" cy="316.0" r="2.3"/><circle cx="201.6" cy="318.9" r="2.3"/><circle cx="202.1" cy="315.1" r="2.3"/><circle cx="202.0" cy="319.0" r="2.3"/><circle cx="204.1" cy="315.4" r="2.3"/><circle cx="204.4" cy="319.7" r="2.3"/><circle cx="206.8" cy="316.3" r="2.3"/><circle cx="205.6" cy="320.0" r="2.3"/><circle cx="208.0" cy="317.5" r="2.3"/><circle cx="207.2" cy="318.9" r="2.3"/><circle cx="209.9" cy="318.4" r="2.3"/><circle cx="210.5" cy="319.3" r="2.3"/><circle cx="203.1" cy="206.7" r="2.3"/><circle cx="182.9" cy="268.4" r="2.3"/><circle cx="179.6" cy="287.6" r="2.3"/><circle cx="176.1" cy="294.6" r="2.3"/><circle cx="204.0" cy="304.5" r="2.3"/><circle cx="196.8" cy="309.0" r="2.3"/><circle cx="162.2" cy="311.7" r="2.3"/><circle cx="162.6" cy="314.3" r="2.3"/><circle cx="165.1" cy="312.5" r="2.3"/><circle cx="166.0" cy="315.0" r="2.3"/><circle cx="172.3" cy="310.3" r="2.3"/><circle cx="172.6" cy="313.0" r="2.3"/><circle cx="173.8" cy="315.2" r="2.3"/><circle cx="178.8" cy="314.6" r="2.3"/><circle cx="183.1" cy="311.7" r="2.3"/><circle cx="183.4" cy="313.8" r="2.3"/><circle cx="186.0" cy="311.5" r="2.3"/><circle cx="189.6" cy="311.7" r="2.3"/><circle cx="188.0" cy="313.6" r="2.3"/><circle cx="202.6" cy="311.5" r="2.3"/><circle cx="202.8" cy="313.6" r="2.3"/><circle cx="192.8" cy="314.2" r="2.3"/><circle cx="168.9" cy="315.6" r="2.3"/></g>
<g fill="#0f4c85"><circle cx="220.1" cy="213.5" r="2.1"/><circle cx="216.6" cy="226.4" r="2.1"/><circle cx="216.6" cy="232.6" r="2.1"/><circle cx="220.1" cy="231.2" r="2.1"/><circle cx="220.4" cy="233.7" r="2.1"/><circle cx="216.6" cy="252.5" r="2.1"/><circle cx="216.6" cy="262.8" r="2.1"/><circle cx="216.6" cy="279.5" r="2.1"/><circle cx="220.2" cy="312.7" r="2.1"/><circle cx="217.0" cy="317.6" r="2.1"/><circle cx="220.6" cy="318.8" r="2.1"/><circle cx="223.5" cy="319.5" r="2.1"/><circle cx="217.0" cy="323.1" r="2.1"/></g>
<text transform="translate(7.00 423.30)" font-size="10.8" font-weight="bold" stroke="#111" stroke-width="0.3">F</text>
<line x1="41.60" y1="430.70" x2="41.60" y2="525.90" stroke="#111" stroke-width="1"/>
<line x1="41.10" y1="525.40" x2="119.70" y2="525.40" stroke="#111" stroke-width="1.3"/>
<line x1="38.30" y1="525.40" x2="41.60" y2="525.40" stroke="#111" stroke-width="1"/>
<text transform="translate(35.20 528.67) scale(0.84 1)" font-size="9.2" text-anchor="end">0</text>
<line x1="38.30" y1="507.30" x2="41.60" y2="507.30" stroke="#111" stroke-width="1"/>
<text transform="translate(35.20 510.57) scale(0.84 1)" font-size="9.2" text-anchor="end">100</text>
<line x1="38.30" y1="489.20" x2="41.60" y2="489.20" stroke="#111" stroke-width="1"/>
<text transform="translate(35.20 492.47) scale(0.84 1)" font-size="9.2" text-anchor="end">200</text>
<line x1="38.30" y1="471.10" x2="41.60" y2="471.10" stroke="#111" stroke-width="1"/>
<text transform="translate(35.20 474.37) scale(0.84 1)" font-size="9.2" text-anchor="end">300</text>
<line x1="38.30" y1="453.00" x2="41.60" y2="453.00" stroke="#111" stroke-width="1"/>
<text transform="translate(35.20 456.27) scale(0.84 1)" font-size="9.2" text-anchor="end">400</text>
<line x1="38.30" y1="434.90" x2="41.60" y2="434.90" stroke="#111" stroke-width="1"/>
<text transform="translate(35.20 438.17) scale(0.84 1)" font-size="9.2" text-anchor="end">500</text>
<line x1="39.60" y1="516.35" x2="41.60" y2="516.35" stroke="#111" stroke-width="1"/>
<line x1="39.60" y1="498.25" x2="41.60" y2="498.25" stroke="#111" stroke-width="1"/>
<line x1="39.60" y1="480.15" x2="41.60" y2="480.15" stroke="#111" stroke-width="1"/>
<line x1="39.60" y1="462.05" x2="41.60" y2="462.05" stroke="#111" stroke-width="1"/>
<line x1="39.60" y1="443.95" x2="41.60" y2="443.95" stroke="#111" stroke-width="1"/>
<text transform="translate(15.70 477.70) rotate(-90)" font-size="10.2" text-anchor="middle" textLength="67.00" lengthAdjust="spacingAndGlyphs">Spleen weight (mg)</text>
<line x1="54.35" y1="514.00" x2="54.35" y2="516.13" stroke="#222" stroke-width="1"/>
<line x1="50.75" y1="514.00" x2="57.95" y2="514.00" stroke="#222" stroke-width="1"/>
<rect x="47.90" y="515.63" width="12.90" height="9.47" fill="#bebdc5"/>
<line x1="54.35" y1="525.40" x2="54.35" y2="528.60" stroke="#111" stroke-width="1"/>
<g transform="translate(57.05 535.60) rotate(-45)"><text transform="translate(-22.44 0) scale(0.9 1)" font-size="8.8">Empty</text></g>
<line x1="72.45" y1="512.37" x2="72.45" y2="514.68" stroke="#222" stroke-width="1"/>
<line x1="68.85" y1="512.37" x2="76.05" y2="512.37" stroke="#222" stroke-width="1"/>
<rect x="66.00" y="514.18" width="12.90" height="10.92" fill="#3ab54a"/>
<line x1="72.45" y1="525.40" x2="72.45" y2="528.60" stroke="#111" stroke-width="1"/>
<g transform="translate(75.15 535.60) rotate(-45)"><text transform="translate(-39.70 0) scale(0.86 1)" font-size="8.8">CSF3R</text><text transform="translate(-14.49 -2.55) scale(0.87 1)" font-size="6.51">T618I</text></g>
<line x1="90.55" y1="482.32" x2="90.55" y2="495.67" stroke="#222" stroke-width="1"/>
<line x1="86.95" y1="482.32" x2="94.15" y2="482.32" stroke="#222" stroke-width="1"/>
<rect x="84.10" y="495.17" width="12.90" height="29.93" fill="#c8102e"/>
<line x1="90.55" y1="525.40" x2="90.55" y2="528.60" stroke="#111" stroke-width="1"/>
<g transform="translate(93.25 535.60) rotate(-45)"><text transform="translate(-48.00 0) scale(0.84 1)" font-size="8.8">SETBP1</text><text transform="translate(-19.26 -2.55) scale(0.95 1)" font-size="6.51">D868N</text></g>
<line x1="108.60" y1="454.45" x2="108.60" y2="467.26" stroke="#222" stroke-width="1"/>
<line x1="105.00" y1="454.45" x2="112.20" y2="454.45" stroke="#222" stroke-width="1"/>
<rect x="102.20" y="466.76" width="12.80" height="58.34" fill="#0f4c85"/>
<line x1="108.60" y1="525.40" x2="108.60" y2="528.60" stroke="#111" stroke-width="1"/>
<g transform="translate(111.30 535.60) rotate(-45)"><text transform="translate(-16.65 0) scale(0.92 1)" font-size="8.8">Both</text></g>
<polyline points="54.7,509.4 54.7,443.9 108.6,443.9 108.6,450.2" fill="none" stroke="#111" stroke-width="1"/>
<text transform="translate(81.20 443.60)" font-size="9" text-anchor="middle">**</text>
<text transform="translate(152.20 423.30)" font-size="10.8" font-weight="bold" stroke="#111" stroke-width="0.3">H</text>
<line x1="186.80" y1="431.50" x2="186.80" y2="525.90" stroke="#111" stroke-width="1"/>
<line x1="186.30" y1="525.40" x2="231.80" y2="525.40" stroke="#111" stroke-width="1.3"/>
<line x1="183.50" y1="525.40" x2="186.80" y2="525.40" stroke="#111" stroke-width="1"/>
<text transform="translate(180.40 528.67) scale(0.84 1)" font-size="9.2" text-anchor="end">0</text>
<line x1="183.50" y1="503.05" x2="186.80" y2="503.05" stroke="#111" stroke-width="1"/>
<text transform="translate(180.40 506.32) scale(0.84 1)" font-size="9.2" text-anchor="end">100</text>
<line x1="183.50" y1="480.70" x2="186.80" y2="480.70" stroke="#111" stroke-width="1"/>
<text transform="translate(180.40 483.97) scale(0.84 1)" font-size="9.2" text-anchor="end">200</text>
<line x1="183.50" y1="458.35" x2="186.80" y2="458.35" stroke="#111" stroke-width="1"/>
<text transform="translate(180.40 461.62) scale(0.84 1)" font-size="9.2" text-anchor="end">300</text>
<line x1="183.50" y1="436.00" x2="186.80" y2="436.00" stroke="#111" stroke-width="1"/>
<text transform="translate(180.40 439.27) scale(0.84 1)" font-size="9.2" text-anchor="end">400</text>
<line x1="184.80" y1="514.23" x2="186.80" y2="514.23" stroke="#111" stroke-width="1"/>
<line x1="184.80" y1="491.88" x2="186.80" y2="491.88" stroke="#111" stroke-width="1"/>
<line x1="184.80" y1="469.52" x2="186.80" y2="469.52" stroke="#111" stroke-width="1"/>
<line x1="184.80" y1="447.17" x2="186.80" y2="447.17" stroke="#111" stroke-width="1"/>
<text transform="translate(162.00 477.60) rotate(-90)" font-size="10.2" text-anchor="middle" textLength="87.00" lengthAdjust="spacingAndGlyphs">Terminal WBC (10<tspan dy="-3.2" font-size="7">3</tspan><tspan dy="3.2">/mm</tspan><tspan dy="-3.2" font-size="7">3</tspan><tspan dy="3.2">)</tspan></text>
<line x1="201.00" y1="453.21" x2="201.00" y2="486.34" stroke="#222" stroke-width="1"/>
<line x1="197.40" y1="453.21" x2="204.60" y2="453.21" stroke="#222" stroke-width="1"/>
<rect x="194.00" y="485.84" width="14.00" height="39.26" fill="#c8102e"/>
<line x1="201.00" y1="525.40" x2="201.00" y2="528.60" stroke="#111" stroke-width="1"/>
<g transform="translate(203.70 535.60) rotate(-45)"><text transform="translate(-48.00 0) scale(0.84 1)" font-size="8.8">SETBP1</text><text transform="translate(-19.26 -2.55) scale(0.95 1)" font-size="6.51">D868N</text></g>
<line x1="218.30" y1="456.56" x2="218.30" y2="472.93" stroke="#222" stroke-width="1"/>
<line x1="214.70" y1="456.56" x2="221.90" y2="456.56" stroke="#222" stroke-width="1"/>
<rect x="211.30" y="472.43" width="14.00" height="52.67" fill="#0f4c85"/>
<line x1="218.30" y1="525.40" x2="218.30" y2="528.60" stroke="#111" stroke-width="1"/>
<g transform="translate(221.00 535.60) rotate(-45)"><text transform="translate(-16.65 0) scale(0.92 1)" font-size="8.8">Both</text></g>
<text transform="translate(255.80 423.30)" font-size="10.8" font-weight="bold" stroke="#111" stroke-width="0.3">I</text>
<line x1="291.70" y1="429.50" x2="291.70" y2="526.00" stroke="#111" stroke-width="1"/>
<line x1="291.20" y1="525.50" x2="375.60" y2="525.50" stroke="#111" stroke-width="1.3"/>
<line x1="288.40" y1="525.50" x2="291.70" y2="525.50" stroke="#111" stroke-width="1"/>
<text transform="translate(285.30 528.77) scale(0.84 1)" font-size="9.2" text-anchor="end">0.00</text>
<line x1="288.40" y1="510.00" x2="291.70" y2="510.00" stroke="#111" stroke-width="1"/>
<text transform="translate(285.30 513.27) scale(0.84 1)" font-size="9.2" text-anchor="end">0.25</text>
<line x1="288.40" y1="494.50" x2="291.70" y2="494.50" stroke="#111" stroke-width="1"/>
<text transform="translate(285.30 497.77) scale(0.84 1)" font-size="9.2" text-anchor="end">0.50</text>
<line x1="288.40" y1="479.00" x2="291.70" y2="479.00" stroke="#111" stroke-width="1"/>
<text transform="translate(285.30 482.27) scale(0.84 1)" font-size="9.2" text-anchor="end">0.75</text>
<line x1="288.40" y1="463.50" x2="291.70" y2="463.50" stroke="#111" stroke-width="1"/>
<text transform="translate(285.30 466.77) scale(0.84 1)" font-size="9.2" text-anchor="end">1.00</text>
<line x1="288.40" y1="448.00" x2="291.70" y2="448.00" stroke="#111" stroke-width="1"/>
<text transform="translate(285.30 451.27) scale(0.84 1)" font-size="9.2" text-anchor="end">1.25</text>
<line x1="288.40" y1="432.50" x2="291.70" y2="432.50" stroke="#111" stroke-width="1"/>
<text transform="translate(285.30 435.77) scale(0.84 1)" font-size="9.2" text-anchor="end">1.50</text>
<line x1="289.70" y1="517.75" x2="291.70" y2="517.75" stroke="#111" stroke-width="1"/>
<line x1="289.70" y1="502.25" x2="291.70" y2="502.25" stroke="#111" stroke-width="1"/>
<line x1="289.70" y1="486.75" x2="291.70" y2="486.75" stroke="#111" stroke-width="1"/>
<line x1="289.70" y1="471.25" x2="291.70" y2="471.25" stroke="#111" stroke-width="1"/>
<line x1="289.70" y1="455.75" x2="291.70" y2="455.75" stroke="#111" stroke-width="1"/>
<line x1="289.70" y1="440.25" x2="291.70" y2="440.25" stroke="#111" stroke-width="1"/>
<text transform="translate(264.20 478.50) rotate(-90)" font-size="10.2" text-anchor="middle" textLength="51.00" lengthAdjust="spacingAndGlyphs">Liver weight (g)</text>
<line x1="304.80" y1="470.32" x2="304.80" y2="473.61" stroke="#222" stroke-width="1"/>
<line x1="301.20" y1="470.32" x2="308.40" y2="470.32" stroke="#222" stroke-width="1"/>
<rect x="298.00" y="473.11" width="13.60" height="52.09" fill="#bebdc5"/>
<line x1="304.80" y1="525.50" x2="304.80" y2="528.70" stroke="#111" stroke-width="1"/>
<g transform="translate(307.50 535.60) rotate(-45)"><text transform="translate(-22.44 0) scale(0.9 1)" font-size="8.8">Empty</text></g>
<line x1="324.05" y1="459.47" x2="324.05" y2="465.55" stroke="#222" stroke-width="1"/>
<line x1="320.45" y1="459.47" x2="327.65" y2="459.47" stroke="#222" stroke-width="1"/>
<rect x="317.10" y="465.05" width="13.90" height="60.15" fill="#3ab54a"/>
<line x1="324.05" y1="525.50" x2="324.05" y2="528.70" stroke="#111" stroke-width="1"/>
<g transform="translate(326.75 535.60) rotate(-45)"><text transform="translate(-39.70 0) scale(0.86 1)" font-size="8.8">CSF3R</text><text transform="translate(-14.49 -2.55) scale(0.87 1)" font-size="6.51">T618I</text></g>
<line x1="343.10" y1="451.72" x2="343.10" y2="460.28" stroke="#222" stroke-width="1"/>
<line x1="339.50" y1="451.72" x2="346.70" y2="451.72" stroke="#222" stroke-width="1"/>
<rect x="336.00" y="459.78" width="14.20" height="65.42" fill="#c8102e"/>
<line x1="343.10" y1="525.50" x2="343.10" y2="528.70" stroke="#111" stroke-width="1"/>
<g transform="translate(345.80 535.60) rotate(-45)"><text transform="translate(-48.00 0) scale(0.84 1)" font-size="8.8">SETBP1</text><text transform="translate(-19.26 -2.55) scale(0.95 1)" font-size="6.51">D868N</text></g>
<line x1="362.10" y1="452.96" x2="362.10" y2="456.56" stroke="#222" stroke-width="1"/>
<line x1="358.50" y1="452.96" x2="365.70" y2="452.96" stroke="#222" stroke-width="1"/>
<rect x="355.20" y="456.06" width="13.80" height="69.14" fill="#0f4c85"/>
<line x1="362.10" y1="525.50" x2="362.10" y2="528.70" stroke="#111" stroke-width="1"/>
<g transform="translate(364.80 535.60) rotate(-45)"><text transform="translate(-16.65 0) scale(0.92 1)" font-size="8.8">Both</text></g>
<polyline points="304.8,465.5 304.8,440.2 362,440.2 362,446.8" fill="none" stroke="#111" stroke-width="1"/>
<text transform="translate(334.80 441.00)" font-size="9" text-anchor="middle">*</text>
<text transform="translate(390.20 423.30)" font-size="10.8" font-weight="bold" stroke="#111" stroke-width="0.3">J</text>
<line x1="418.90" y1="433.00" x2="418.90" y2="526.00" stroke="#111" stroke-width="1"/>
<line x1="418.40" y1="525.50" x2="502.80" y2="525.50" stroke="#111" stroke-width="1.3"/>
<line x1="415.60" y1="525.50" x2="418.90" y2="525.50" stroke="#111" stroke-width="1"/>
<text transform="translate(412.50 528.77) scale(0.84 1)" font-size="9.2" text-anchor="end">0</text>
<line x1="415.60" y1="507.85" x2="418.90" y2="507.85" stroke="#111" stroke-width="1"/>
<text transform="translate(412.50 511.12) scale(0.84 1)" font-size="9.2" text-anchor="end">5</text>
<line x1="415.60" y1="490.20" x2="418.90" y2="490.20" stroke="#111" stroke-width="1"/>
<text transform="translate(412.50 493.47) scale(0.84 1)" font-size="9.2" text-anchor="end">10</text>
<line x1="415.60" y1="472.55" x2="418.90" y2="472.55" stroke="#111" stroke-width="1"/>
<text transform="translate(412.50 475.82) scale(0.84 1)" font-size="9.2" text-anchor="end">15</text>
<line x1="415.60" y1="454.90" x2="418.90" y2="454.90" stroke="#111" stroke-width="1"/>
<text transform="translate(412.50 458.17) scale(0.84 1)" font-size="9.2" text-anchor="end">20</text>
<line x1="415.60" y1="437.25" x2="418.90" y2="437.25" stroke="#111" stroke-width="1"/>
<text transform="translate(412.50 440.52) scale(0.84 1)" font-size="9.2" text-anchor="end">25</text>
<line x1="416.90" y1="516.67" x2="418.90" y2="516.67" stroke="#111" stroke-width="1"/>
<line x1="416.90" y1="499.02" x2="418.90" y2="499.02" stroke="#111" stroke-width="1"/>
<line x1="416.90" y1="481.38" x2="418.90" y2="481.38" stroke="#111" stroke-width="1"/>
<line x1="416.90" y1="463.73" x2="418.90" y2="463.73" stroke="#111" stroke-width="1"/>
<line x1="416.90" y1="446.07" x2="418.90" y2="446.07" stroke="#111" stroke-width="1"/>
<text transform="translate(397.80 478.00) rotate(-90)" font-size="10.2" text-anchor="middle" textLength="52.50" lengthAdjust="spacingAndGlyphs">Body weight (g)</text>
<line x1="431.45" y1="453.84" x2="431.45" y2="458.58" stroke="#222" stroke-width="1"/>
<line x1="427.85" y1="453.84" x2="435.05" y2="453.84" stroke="#222" stroke-width="1"/>
<rect x="424.70" y="458.08" width="13.50" height="67.12" fill="#bebdc5"/>
<line x1="431.45" y1="525.50" x2="431.45" y2="528.70" stroke="#111" stroke-width="1"/>
<g transform="translate(434.15 535.60) rotate(-45)"><text transform="translate(-22.44 0) scale(0.9 1)" font-size="8.8">Empty</text></g>
<line x1="449.90" y1="455.96" x2="449.90" y2="457.52" stroke="#222" stroke-width="1"/>
<line x1="446.30" y1="455.96" x2="453.50" y2="455.96" stroke="#222" stroke-width="1"/>
<rect x="443.30" y="457.02" width="13.20" height="68.18" fill="#3ab54a"/>
<line x1="449.90" y1="525.50" x2="449.90" y2="528.70" stroke="#111" stroke-width="1"/>
<g transform="translate(452.60 535.60) rotate(-45)"><text transform="translate(-39.70 0) scale(0.86 1)" font-size="8.8">CSF3R</text><text transform="translate(-14.49 -2.55) scale(0.87 1)" font-size="6.51">T618I</text></g>
<line x1="467.90" y1="460.90" x2="467.90" y2="465.64" stroke="#222" stroke-width="1"/>
<line x1="464.30" y1="460.90" x2="471.50" y2="460.90" stroke="#222" stroke-width="1"/>
<rect x="461.10" y="465.14" width="13.60" height="60.06" fill="#c8102e"/>
<line x1="467.90" y1="525.50" x2="467.90" y2="528.70" stroke="#111" stroke-width="1"/>
<g transform="translate(470.60 535.60) rotate(-45)"><text transform="translate(-48.00 0) scale(0.84 1)" font-size="8.8">SETBP1</text><text transform="translate(-19.26 -2.55) scale(0.95 1)" font-size="6.51">D868N</text></g>
<line x1="486.05" y1="462.67" x2="486.05" y2="466.34" stroke="#222" stroke-width="1"/>
<line x1="482.45" y1="462.67" x2="489.65" y2="462.67" stroke="#222" stroke-width="1"/>
<rect x="479.30" y="465.84" width="13.50" height="59.36" fill="#0f4c85"/>
<line x1="486.05" y1="525.50" x2="486.05" y2="528.70" stroke="#111" stroke-width="1"/>
<g transform="translate(488.75 535.60) rotate(-45)"><text transform="translate(-16.65 0) scale(0.92 1)" font-size="8.8">Both</text></g>
<defs><filter id="bl1" x="-0.3" y="-0.3" width="1.6" height="1.6"><feGaussianBlur stdDeviation="1"/></filter>
<filter id="bl2" x="-0.3" y="-0.3" width="1.6" height="1.6"><feGaussianBlur stdDeviation="2"/></filter>
<filter id="bl3" x="-0.3" y="-0.3" width="1.6" height="1.6"><feGaussianBlur stdDeviation="3.5"/></filter>
<filter id="bl05" x="-0.3" y="-0.3" width="1.6" height="1.6"><feGaussianBlur stdDeviation="0.45"/></filter>
<filter id="tE1" x="0" y="0" width="1" height="1" color-interpolation-filters="sRGB">
<feTurbulence type="fractalNoise" baseFrequency="0.34 0.42" numOctaves="3" seed="3"/>
<feColorMatrix type="matrix" values="1.7 0 0 0 -0.350  1.9 0 0 0 -0.450  1.0 0 0 0 0.000  0 0 0 0 1" result="n"/>
<feComposite in="SourceGraphic" in2="n" operator="arithmetic" k1="1" k2="0.5" k3="0" k4="0" result="c"/>
<feGaussianBlur in="c" stdDeviation="0.35"/>
</filter>
<filter id="oE1p" x="-0.2" y="-0.2" width="1.4" height="1.4" color-interpolation-filters="sRGB">
<feGaussianBlur in="SourceAlpha" stdDeviation="2.2" result="b"/>
<feTurbulence type="fractalNoise" baseFrequency="0.22" numOctaves="3" seed="8" result="t"/>
<feColorMatrix in="t" type="matrix" values="0 0 0 0 0  0 0 0 0 0  0 0 0 0 0  1 0 0 0 0" result="ta"/>
<feComposite in="b" in2="ta" operator="arithmetic" k1="0" k2="1" k3="1" k4="-0.5" result="sum"/>
<feComponentTransfer in="sum" result="m"><feFuncA type="linear" slope="1.7" intercept="-0.350"/></feComponentTransfer>
<feFlood flood-color="#d04c88" flood-opacity="0.62"/><feComposite in2="m" operator="in"/>
</filter>
<filter id="oE1d" x="-0.2" y="-0.2" width="1.4" height="1.4" color-interpolation-filters="sRGB">
<feGaussianBlur in="SourceAlpha" stdDeviation="3.2" result="b"/>
<feTurbulence type="fractalNoise" baseFrequency="0.16" numOctaves="3" seed="21" result="t"/>
<feColorMatrix in="t" type="matrix" values="0 0 0 0 0  0 0 0 0 0  0 0 0 0 0  1 0 0 0 0" result="ta"/>
<feComposite in="b" in2="ta" operator="arithmetic" k1="0" k2="1" k3="1" k4="-0.5" result="sum"/>
<feComponentTransfer in="sum" result="m"><feFuncA type="linear" slope="1.6" intercept="-0.300"/></feComponentTransfer>
<feFlood flood-color="#5a4189" flood-opacity="0.5"/><feComposite in2="m" operator="in"/>
</filter>
<clipPath id="cE1"><rect x="300.4" y="182.0" width="69.0" height="91.39999999999998"/></clipPath>
<filter id="tE2" x="0" y="0" width="1" height="1" color-interpolation-filters="sRGB">
<feTurbulence type="fractalNoise" baseFrequency="0.36 0.44" numOctaves="3" seed="9"/>
<feColorMatrix type="matrix" values="1.5 0 0 0 -0.250  1.5 0 0 0 -0.250  1.25 0 0 0 -0.125  0 0 0 0 1" result="n"/>
<feComposite in="SourceGraphic" in2="n" operator="arithmetic" k1="1" k2="0.5" k3="0" k4="0" result="c"/>
<feGaussianBlur in="c" stdDeviation="0.35"/>
</filter>
<filter id="oE2d" x="-0.2" y="-0.2" width="1.4" height="1.4" color-interpolation-filters="sRGB">
<feGaussianBlur in="SourceAlpha" stdDeviation="4.5" result="b"/>
<feTurbulence type="fractalNoise" baseFrequency="0.14" numOctaves="3" seed="5" result="t"/>
<feColorMatrix in="t" type="matrix" values="0 0 0 0 0  0 0 0 0 0  0 0 0 0 0  1 0 0 0 0" result="ta"/>
<feComposite in="b" in2="ta" operator="arithmetic" k1="0" k2="1" k3="1" k4="-0.5" result="sum"/>
<feComponentTransfer in="sum" result="m"><feFuncA type="linear" slope="1.5" intercept="-0.250"/></feComponentTransfer>
<feFlood flood-color="#67498f" flood-opacity="0.6"/><feComposite in2="m" operator="in"/>
</filter>
<filter id="oE2l" x="-0.2" y="-0.2" width="1.4" height="1.4" color-interpolation-filters="sRGB">
<feGaussianBlur in="SourceAlpha" stdDeviation="4.5" result="b"/>
<feTurbulence type="fractalNoise" baseFrequency="0.14" numOctaves="3" seed="15" result="t"/>
<feColorMatrix in="t" type="matrix" values="0 0 0 0 0  0 0 0 0 0  0 0 0 0 0  1 0 0 0 0" result="ta"/>
<feComposite in="b" in2="ta" operator="arithmetic" k1="0" k2="1" k3="1" k4="-0.5" result="sum"/>
<feComponentTransfer in="sum" result="m"><feFuncA type="linear" slope="1.5" intercept="-0.250"/></feComponentTransfer>
<feFlood flood-color="#a291bd" flood-opacity="0.45"/><feComposite in2="m" operator="in"/>
</filter>
<clipPath id="cE2"><rect x="372.5" y="182.0" width="69.0" height="91.39999999999998"/></clipPath>
<filter id="tE3" x="0" y="0" width="1" height="1" color-interpolation-filters="sRGB">
<feTurbulence type="fractalNoise" baseFrequency="0.34 0.42" numOctaves="3" seed="14"/>
<feColorMatrix type="matrix" values="1.6 0 0 0 -0.300  1.7 0 0 0 -0.350  1.0 0 0 0 0.000  0 0 0 0 1" result="n"/>
<feComposite in="SourceGraphic" in2="n" operator="arithmetic" k1="1" k2="0.5" k3="0" k4="0" result="c"/>
<feGaussianBlur in="c" stdDeviation="0.35"/>
</filter>
<filter id="oE3d" x="-0.2" y="-0.2" width="1.4" height="1.4" color-interpolation-filters="sRGB">
<feGaussianBlur in="SourceAlpha" stdDeviation="3.5" result="b"/>
<feTurbulence type="fractalNoise" baseFrequency="0.12" numOctaves="3" seed="6" result="t"/>
<feColorMatrix in="t" type="matrix" values="0 0 0 0 0  0 0 0 0 0  0 0 0 0 0  1 0 0 0 0" result="ta"/>
<feComposite in="b" in2="ta" operator="arithmetic" k1="0" k2="1" k3="1" k4="-0.5" result="sum"/>
<feComponentTransfer in="sum" result="m"><feFuncA type="linear" slope="2" intercept="-0.500"/></feComponentTransfer>
<feFlood flood-color="#822f92" flood-opacity="0.7"/><feComposite in2="m" operator="in"/>
</filter>
<filter id="oE3l" x="-0.2" y="-0.2" width="1.4" height="1.4" color-interpolation-filters="sRGB">
<feGaussianBlur in="SourceAlpha" stdDeviation="3.5" result="b"/>
<feTurbulence type="fractalNoise" baseFrequency="0.12" numOctaves="3" seed="16" result="t"/>
<feColorMatrix in="t" type="matrix" values="0 0 0 0 0  0 0 0 0 0  0 0 0 0 0  1 0 0 0 0" result="ta"/>
<feComposite in="b" in2="ta" operator="arithmetic" k1="0" k2="1" k3="1" k4="-0.5" result="sum"/>
<feComponentTransfer in="sum" result="m"><feFuncA type="linear" slope="2" intercept="-0.500"/></feComponentTransfer>
<feFlood flood-color="#ab52b0" flood-opacity="0.6"/><feComposite in2="m" operator="in"/>
</filter>
<clipPath id="cE3"><rect x="444.3" y="182.0" width="68.90000000000003" height="91.39999999999998"/></clipPath>
<filter id="tG1" x="0" y="0" width="1" height="1" color-interpolation-filters="sRGB">
<feTurbulence type="fractalNoise" baseFrequency="0.6" numOctaves="2" seed="4"/>
<feColorMatrix type="matrix" values="1.1 0 0 0 -0.050  1.1 0 0 0 -0.050  0.55 0 0 0 0.225  0 0 0 0 1" result="n"/>
<feComposite in="SourceGraphic" in2="n" operator="arithmetic" k1="1" k2="0.5" k3="0" k4="0" result="c"/>
<feGaussianBlur in="c" stdDeviation="0.45"/>
</filter>
<filter id="oG1m" x="-0.2" y="-0.2" width="1.4" height="1.4" color-interpolation-filters="sRGB">
<feGaussianBlur in="SourceAlpha" stdDeviation="3.2" result="b"/>
<feTurbulence type="fractalNoise" baseFrequency="0.14" numOctaves="3" seed="3" result="t"/>
<feColorMatrix in="t" type="matrix" values="0 0 0 0 0  0 0 0 0 0  0 0 0 0 0  1 0 0 0 0" result="ta"/>
<feComposite in="b" in2="ta" operator="arithmetic" k1="0" k2="1" k3="1" k4="-0.5" result="sum"/>
<feComponentTransfer in="sum" result="m"><feFuncA type="linear" slope="1.7" intercept="-0.350"/></feComponentTransfer>
<feFlood flood-color="#54429c" flood-opacity="0.9"/><feComposite in2="m" operator="in"/>
</filter>
<filter id="oG1f" x="-0.2" y="-0.2" width="1.4" height="1.4" color-interpolation-filters="sRGB">
<feGaussianBlur in="SourceAlpha" stdDeviation="2.0" result="b"/>
<feTurbulence type="fractalNoise" baseFrequency="0.18" numOctaves="3" seed="12" result="t"/>
<feColorMatrix in="t" type="matrix" values="0 0 0 0 0  0 0 0 0 0  0 0 0 0 0  1 0 0 0 0" result="ta"/>
<feComposite in="b" in2="ta" operator="arithmetic" k1="0" k2="1" k3="1" k4="-0.5" result="sum"/>
<feComponentTransfer in="sum" result="m"><feFuncA type="linear" slope="2.0" intercept="-0.500"/></feComponentTransfer>
<feFlood flood-color="#39388c" flood-opacity="0.92"/><feComposite in2="m" operator="in"/>
</filter>
<filter id="oG1p" x="-0.2" y="-0.2" width="1.4" height="1.4" color-interpolation-filters="sRGB">
<feGaussianBlur in="SourceAlpha" stdDeviation="1.6" result="b"/>
<feTurbulence type="fractalNoise" baseFrequency="0.25" numOctaves="3" seed="17" result="t"/>
<feColorMatrix in="t" type="matrix" values="0 0 0 0 0  0 0 0 0 0  0 0 0 0 0  1 0 0 0 0" result="ta"/>
<feComposite in="b" in2="ta" operator="arithmetic" k1="0" k2="1" k3="1" k4="-0.5" result="sum"/>
<feComponentTransfer in="sum" result="m"><feFuncA type="linear" slope="2.2" intercept="-0.600"/></feComponentTransfer>
<feFlood flood-color="#cb74c6" flood-opacity="0.75"/><feComposite in2="m" operator="in"/>
</filter>
<clipPath id="cG1"><path d="M300.7 299.3 H369.3 V402.2 H318.2 L311.5 398.6 L305.5 394.6 L300.7 390.8 Z"/></clipPath>
<filter id="tG2" x="0" y="0" width="1" height="1" color-interpolation-filters="sRGB">
<feTurbulence type="fractalNoise" baseFrequency="0.6 0.68" numOctaves="3" seed="8"/>
<feColorMatrix type="matrix" values="0.9 0 0 0 0.050  1.0 0 0 0 0.000  0.45 0 0 0 0.275  0 0 0 0 1" result="n"/>
<feComposite in="SourceGraphic" in2="n" operator="arithmetic" k1="1" k2="0.5" k3="0" k4="0" result="c"/>
<feGaussianBlur in="c" stdDeviation="0.45"/>
</filter>
<filter id="oG2p" x="-0.2" y="-0.2" width="1.4" height="1.4" color-interpolation-filters="sRGB">
<feGaussianBlur in="SourceAlpha" stdDeviation="3.5" result="b"/>
<feTurbulence type="fractalNoise" baseFrequency="0.5" numOctaves="3" seed="23" result="t"/>
<feColorMatrix in="t" type="matrix" values="0 0 0 0 0  0 0 0 0 0  0 0 0 0 0  1 0 0 0 0" result="ta"/>
<feComposite in="b" in2="ta" operator="arithmetic" k1="0" k2="0.5" k3="1" k4="-0.43" result="sum"/>
<feComponentTransfer in="sum" result="m"><feFuncA type="linear" slope="3.2" intercept="-1.100"/></feComponentTransfer>
<feFlood flood-color="#c63d86" flood-opacity="0.72"/><feComposite in2="m" operator="in"/>
</filter>
<filter id="oG2s" x="-0.2" y="-0.2" width="1.4" height="1.4" color-interpolation-filters="sRGB">
<feGaussianBlur in="SourceAlpha" stdDeviation="6" result="b"/>
<feTurbulence type="fractalNoise" baseFrequency="0.5" numOctaves="3" seed="41" result="t"/>
<feColorMatrix in="t" type="matrix" values="0 0 0 0 0  0 0 0 0 0  0 0 0 0 0  1 0 0 0 0" result="ta"/>
<feComposite in="b" in2="ta" operator="arithmetic" k1="0" k2="1" k3="1" k4="-0.67" result="sum"/>
<feComponentTransfer in="sum" result="m"><feFuncA type="linear" slope="3.0" intercept="-1.000"/></feComponentTransfer>
<feFlood flood-color="#b8489a" flood-opacity="0.35"/><feComposite in2="m" operator="in"/>
</filter>
<filter id="oG2b" x="-0.2" y="-0.2" width="1.4" height="1.4" color-interpolation-filters="sRGB">
<feGaussianBlur in="SourceAlpha" stdDeviation="3.5" result="b"/>
<feTurbulence type="fractalNoise" baseFrequency="0.25" numOctaves="3" seed="51" result="t"/>
<feColorMatrix in="t" type="matrix" values="0 0 0 0 0  0 0 0 0 0  0 0 0 0 0  1 0 0 0 0" result="ta"/>
<feComposite in="b" in2="ta" operator="arithmetic" k1="0" k2="1" k3="1" k4="-0.5" result="sum"/>
<feComponentTransfer in="sum" result="m"><feFuncA type="linear" slope="1.8" intercept="-0.400"/></feComponentTransfer>
<feFlood flood-color="#8a84be" flood-opacity="0.75"/><feComposite in2="m" operator="in"/>
</filter>
<clipPath id="cG2"><path d="M372.6 299.3 H435.4 L441.3 307.2 V402.2 H372.6 Z"/></clipPath>
<filter id="tG3" x="0" y="0" width="1" height="1" color-interpolation-filters="sRGB">
<feTurbulence type="fractalNoise" baseFrequency="0.33 0.4" numOctaves="3" seed="2"/>
<feColorMatrix type="matrix" values="0.9 0 0 0 0.050  1.0 0 0 0 0.000  0.6 0 0 0 0.200  0 0 0 0 1" result="n"/>
<feComposite in="SourceGraphic" in2="n" operator="arithmetic" k1="1" k2="0.5" k3="0" k4="0" result="c"/>
<feGaussianBlur in="c" stdDeviation="0.35"/>
</filter>
<filter id="oG3d" x="-0.2" y="-0.2" width="1.4" height="1.4" color-interpolation-filters="sRGB">
<feGaussianBlur in="SourceAlpha" stdDeviation="5" result="b"/>
<feTurbulence type="fractalNoise" baseFrequency="0.12" numOctaves="3" seed="31" result="t"/>
<feColorMatrix in="t" type="matrix" values="0 0 0 0 0  0 0 0 0 0  0 0 0 0 0  1 0 0 0 0" result="ta"/>
<feComposite in="b" in2="ta" operator="arithmetic" k1="0" k2="1" k3="1" k4="-0.5" result="sum"/>
<feComponentTransfer in="sum" result="m"><feFuncA type="linear" slope="1.8" intercept="-0.400"/></feComponentTransfer>
<feFlood flood-color="#9472ba" flood-opacity="0.8"/><feComposite in2="m" operator="in"/>
</filter>
<clipPath id="cG3"><rect x="444.3" y="299.3" width="68.90000000000003" height="102.89999999999998"/></clipPath></defs>
<g clip-path="url(#cE1)">
<g filter="url(#tE1)">
<rect x="298" y="180" width="74" height="96" fill="#905a98"/>
<g filter="url(#oE1d)"><ellipse cx="318.0" cy="200.0" rx="12.0" ry="14.0" fill="#000"/><ellipse cx="322.0" cy="238.0" rx="9.0" ry="10.0" fill="#000"/><ellipse cx="345.0" cy="252.0" rx="14.0" ry="9.0" fill="#000"/><ellipse cx="356.0" cy="232.0" rx="8.0" ry="8.0" fill="#000"/><ellipse cx="309.0" cy="262.0" rx="8.0" ry="8.0" fill="#000"/><ellipse cx="334.0" cy="215.0" rx="7.0" ry="6.0" fill="#000"/></g>
<g filter="url(#oE1p)"><ellipse cx="311.0" cy="219.5" rx="10.0" ry="4.0" fill="#000"/><ellipse cx="347.0" cy="215.0" rx="8.0" ry="4.0" fill="#000" transform="rotate(-20 347.0 215.0)"/><ellipse cx="344.7" cy="228.4" rx="7.0" ry="4.5" fill="#000"/><ellipse cx="361.4" cy="208.4" rx="6.0" ry="6.0" fill="#000"/><ellipse cx="305.5" cy="235.0" rx="6.0" ry="5.0" fill="#000"/><ellipse cx="354.8" cy="240.0" rx="4.5" ry="4.5" fill="#000"/><ellipse cx="363.0" cy="187.0" rx="6.0" ry="5.0" fill="#000"/><ellipse cx="352.0" cy="208.0" rx="6.0" ry="3.5" fill="#000" transform="rotate(-30 352.0 208.0)"/><ellipse cx="330.0" cy="256.0" rx="7.0" ry="3.5" fill="#000"/><ellipse cx="312.0" cy="250.0" rx="5.0" ry="3.5" fill="#000"/><ellipse cx="318.0" cy="190.0" rx="5.0" ry="3.0" fill="#000"/><ellipse cx="340.0" cy="246.0" rx="4.0" ry="3.0" fill="#000"/></g>
</g>
<g filter="url(#bl05)"><ellipse cx="336.1" cy="198.7" rx="8.4" ry="5.4" fill="#f4f2f5" transform="rotate(-18 336.1 198.7)"/><ellipse cx="343.9" cy="185.6" rx="5.0" ry="3.6" fill="#f4f2f5" transform="rotate(-5 343.9 185.6)"/><ellipse cx="329.4" cy="234.3" rx="6.2" ry="4.4" fill="#f4f2f5" transform="rotate(-15 329.4 234.3)"/><ellipse cx="351.8" cy="219.7" rx="4.4" ry="3.2" fill="#f4f2f5" transform="rotate(-10 351.8 219.7)"/><ellipse cx="300.2" cy="221.0" rx="4.2" ry="6.0" fill="#f4f2f5"/><ellipse cx="356.4" cy="204.7" rx="2.2" ry="3.2" fill="#f4f2f5"/><ellipse cx="323.0" cy="249.0" rx="2.8" ry="2.3" fill="#f4f2f5"/><ellipse cx="348.9" cy="266.0" rx="3.8" ry="3.3" fill="#f4f2f5" transform="rotate(-20 348.9 266.0)"/><ellipse cx="363.1" cy="269.6" rx="7.0" ry="4.8" fill="#f4f2f5" transform="rotate(-5 363.1 269.6)"/><ellipse cx="310.5" cy="236.8" rx="1.4" ry="1.4" fill="#f4f2f5"/><ellipse cx="337.6" cy="266.8" rx="1.7" ry="1.7" fill="#f4f2f5"/><ellipse cx="319.7" cy="266.8" rx="1.1" ry="1.1" fill="#f4f2f5"/><ellipse cx="358.0" cy="246.0" rx="0.9" ry="0.9" fill="#f4f2f5"/><ellipse cx="369.6" cy="220.0" rx="1.6" ry="4.0" fill="#f4f2f5"/></g>
</g>
<g clip-path="url(#cE2)">
<g filter="url(#tE2)">
<rect x="370" y="180" width="74" height="96" fill="#8f7ba3"/>
<g filter="url(#oE2d)"><ellipse cx="378.0" cy="232.0" rx="7.0" ry="26.0" fill="#000"/><ellipse cx="384.0" cy="192.0" rx="9.0" ry="8.0" fill="#000"/><ellipse cx="430.0" cy="262.0" rx="10.0" ry="8.0" fill="#000"/><ellipse cx="400.0" cy="268.0" rx="10.0" ry="5.0" fill="#000"/><ellipse cx="410.0" cy="240.0" rx="6.0" ry="10.0" fill="#000"/><ellipse cx="428.0" cy="196.0" rx="8.0" ry="6.0" fill="#000"/><ellipse cx="400.0" cy="212.0" rx="6.0" ry="5.0" fill="#000"/><ellipse cx="432.0" cy="232.0" rx="5.0" ry="8.0" fill="#000"/></g>
<g filter="url(#oE2l)"><ellipse cx="420.0" cy="222.0" rx="8.0" ry="8.0" fill="#000"/><ellipse cx="410.0" cy="200.0" rx="10.0" ry="6.0" fill="#000"/><ellipse cx="396.0" cy="250.0" rx="7.0" ry="8.0" fill="#000"/><ellipse cx="422.0" cy="250.0" rx="6.0" ry="6.0" fill="#000"/></g>
<g filter="url(#bl1)" opacity="0.9"><ellipse cx="419.2" cy="215.9" rx="3.5" ry="3.2" fill="#d07fae"/><ellipse cx="387.5" cy="262.6" rx="4.8" ry="3.8" fill="#d07fae"/><ellipse cx="436.0" cy="214.0" rx="3.8" ry="2.5" fill="#d07fae"/><ellipse cx="433.4" cy="265.0" rx="4.4" ry="3.1" fill="#d07fae"/><ellipse cx="396.0" cy="207.0" rx="2.5" ry="2.0" fill="#d07fae"/><ellipse cx="404.0" cy="223.0" rx="2.2" ry="1.9" fill="#d07fae"/><ellipse cx="381.0" cy="190.0" rx="2.5" ry="2.0" fill="#d07fae"/><ellipse cx="425.0" cy="240.0" rx="2.2" ry="1.9" fill="#d07fae"/></g>
</g>
<g filter="url(#bl05)"><ellipse cx="380.9" cy="224.0" rx="1.6" ry="1.1" fill="#f4f0f6"/><ellipse cx="395.5" cy="262.8" rx="1.8" ry="1.0" fill="#f4f0f6"/><ellipse cx="383.0" cy="227.0" rx="1.0" ry="0.8" fill="#f4f0f6"/></g>
</g>
<g clip-path="url(#cE3)">
<g filter="url(#tE3)">
<rect x="442" y="180" width="74" height="96" fill="#913b9b"/>
<g filter="url(#oE3d)"><ellipse cx="498.0" cy="215.0" rx="12.0" ry="22.0" fill="#000"/><ellipse cx="460.0" cy="225.0" rx="8.0" ry="10.0" fill="#000"/><ellipse cx="480.0" cy="255.0" rx="10.0" ry="8.0" fill="#000"/></g>
<g filter="url(#oE3l)"><ellipse cx="470.0" cy="198.0" rx="14.0" ry="8.0" fill="#000"/><ellipse cx="455.0" cy="258.0" rx="8.0" ry="10.0" fill="#000"/><ellipse cx="485.0" cy="232.0" rx="7.0" ry="6.0" fill="#000"/></g>
</g>
<g fill="none" stroke="#ecdcef" stroke-width="0.8" filter="url(#bl05)" opacity="0.5"><path d="M451 234 q3 -6 6 -2 q1 8 0 16"/><path d="M470 200 q4 6 2 12"/><path d="M481 225 q2 8 -1 14"/><path d="M462 262 q2 5 0 9"/><path d="M493 250 q3 6 1 12"/></g>
</g>
<g clip-path="url(#cG1)">
<g filter="url(#tG1)">
<rect x="298" y="296" width="74" height="110" fill="#7d469c"/>
<g filter="url(#oG1m)"><ellipse cx="329.5" cy="318.0" rx="16.2" ry="13.5" fill="#000"/><ellipse cx="354.4" cy="305.6" rx="14.0" ry="9.0" fill="#000"/><ellipse cx="364.0" cy="319.0" rx="7.5" ry="14.0" fill="#000"/><ellipse cx="306.6" cy="325.6" rx="9.7" ry="14.0" fill="#000"/><ellipse cx="355.4" cy="343.8" rx="17.7" ry="14.8" fill="#000"/><ellipse cx="355.4" cy="361.0" rx="14.8" ry="10.4" fill="#000"/><ellipse cx="309.5" cy="349.5" rx="9.0" ry="9.0" fill="#000"/><ellipse cx="328.6" cy="351.4" rx="9.0" ry="10.4" fill="#000"/><ellipse cx="337.2" cy="369.6" rx="10.4" ry="9.0" fill="#000"/><ellipse cx="355.4" cy="383.0" rx="16.2" ry="13.3" fill="#000"/><ellipse cx="315.0" cy="305.0" rx="14.8" ry="7.5" fill="#000"/><ellipse cx="319.0" cy="370.5" rx="7.5" ry="7.5" fill="#000"/><ellipse cx="332.4" cy="385.9" rx="11.9" ry="10.4" fill="#000"/><ellipse cx="345.8" cy="395.4" rx="12.6" ry="7.5" fill="#000"/><ellipse cx="363.0" cy="397.0" rx="8.2" ry="6.8" fill="#000"/><ellipse cx="340.0" cy="336.0" rx="8.2" ry="6.8" fill="#000"/><ellipse cx="318.0" cy="336.0" rx="6.8" ry="6.8" fill="#000"/></g>
<g filter="url(#oG1f)"><ellipse cx="329.5" cy="318.0" rx="11.3" ry="9.3" fill="#000"/><ellipse cx="354.4" cy="305.6" rx="9.7" ry="5.9" fill="#000"/><ellipse cx="364.0" cy="319.0" rx="4.9" ry="9.7" fill="#000"/><ellipse cx="306.6" cy="325.6" rx="6.5" ry="9.7" fill="#000"/><ellipse cx="355.4" cy="343.8" rx="12.4" ry="10.3" fill="#000"/><ellipse cx="355.4" cy="361.0" rx="10.3" ry="7.0" fill="#000"/><ellipse cx="309.5" cy="349.5" rx="5.9" ry="5.9" fill="#000"/><ellipse cx="328.6" cy="351.4" rx="5.9" ry="7.0" fill="#000"/><ellipse cx="337.2" cy="369.6" rx="7.0" ry="5.9" fill="#000"/><ellipse cx="355.4" cy="383.0" rx="11.3" ry="9.2" fill="#000"/><ellipse cx="315.0" cy="305.0" rx="10.3" ry="4.9" fill="#000"/><ellipse cx="319.0" cy="370.5" rx="4.9" ry="4.9" fill="#000"/><ellipse cx="332.4" cy="385.9" rx="8.1" ry="7.0" fill="#000"/><ellipse cx="345.8" cy="395.4" rx="8.6" ry="4.9" fill="#000"/><ellipse cx="363.0" cy="397.0" rx="5.4" ry="4.3" fill="#000"/><ellipse cx="340.0" cy="336.0" rx="5.4" ry="4.3" fill="#000"/><ellipse cx="318.0" cy="336.0" rx="4.3" ry="4.3" fill="#000"/></g>
<g filter="url(#bl2)" opacity="0.55"><ellipse cx="331.0" cy="317.0" rx="4.5" ry="3.5" fill="#8f7cc4"/><ellipse cx="357.0" cy="342.0" rx="5.0" ry="4.0" fill="#8f7cc4"/><ellipse cx="356.0" cy="382.0" rx="4.5" ry="3.5" fill="#8f7cc4"/><ellipse cx="338.0" cy="369.0" rx="2.5" ry="2.0" fill="#8f7cc4"/><ellipse cx="355.0" cy="360.0" rx="4.0" ry="2.5" fill="#8f7cc4"/></g>
<g filter="url(#oG1p)"><ellipse cx="312.0" cy="380.0" rx="10.0" ry="7.0" fill="#000"/><ellipse cx="306.0" cy="393.0" rx="5.0" ry="5.0" fill="#000"/></g>
<g fill="none" stroke="#c066bc" stroke-width="1.4" filter="url(#bl1)" opacity="0.7"><path d="M343 300 q2 8 -1 14 q6 6 4 16 q-10 6 -22 8 q-8 -2 -12 4"/><path d="M318 312 q-3 10 -6 24"/><path d="M369 330 q-10 2 -16 1"/><path d="M342 352 q2 8 0 14 q8 4 10 8"/><path d="M302 338 q8 6 16 4 q2 10 4 22"/><path d="M322 377 q10 2 20 -2"/><path d="M341 352 q-4 -4 -3 -10"/></g>
</g>
<g fill="none" stroke="#f6f0f8" filter="url(#bl05)"><path d="M369.4 382 L362 402.5" stroke-width="1.3"/><path d="M312 388.5 q10 3 22 3.5 q10 1 16 3" stroke-width="0.6" opacity="0.75"/><path d="M325 362 q6 -3 10 -1" stroke-width="0.6" opacity="0.6"/><path d="M306 372 q5 3 9 8" stroke-width="0.6" opacity="0.6"/></g>
</g>
<g clip-path="url(#cG2)">
<g filter="url(#tG2)">
<rect x="370" y="296" width="74" height="110" fill="#8a82ba"/>
<g filter="url(#oG2s)"><rect x="366" y="292" width="82" height="118" fill="#000"/></g>
<g filter="url(#oG2p)"><ellipse cx="381.0" cy="322.0" rx="8.0" ry="21.0" fill="#000"/><ellipse cx="398.0" cy="305.0" rx="10.0" ry="5.0" fill="#000"/><ellipse cx="398.0" cy="340.0" rx="11.0" ry="5.0" fill="#000" transform="rotate(-20 398.0 340.0)"/><ellipse cx="417.0" cy="333.0" rx="10.0" ry="4.5" fill="#000" transform="rotate(-12 417.0 333.0)"/><ellipse cx="434.0" cy="336.0" rx="7.0" ry="5.0" fill="#000" transform="rotate(20 434.0 336.0)"/><ellipse cx="436.0" cy="353.0" rx="6.0" ry="15.0" fill="#000"/><ellipse cx="384.0" cy="357.0" rx="9.0" ry="15.0" fill="#000"/><ellipse cx="403.0" cy="366.0" rx="9.0" ry="5.0" fill="#000" transform="rotate(25 403.0 366.0)"/><ellipse cx="422.0" cy="369.0" rx="9.0" ry="5.0" fill="#000" transform="rotate(-15 422.0 369.0)"/><ellipse cx="386.0" cy="387.0" rx="13.0" ry="14.0" fill="#000"/><ellipse cx="432.0" cy="387.0" rx="10.0" ry="14.0" fill="#000"/></g>
<g filter="url(#oG2b)"><ellipse cx="419.0" cy="319.0" rx="21.0" ry="12.0" fill="#000" transform="rotate(5 419.0 319.0)"/><ellipse cx="411.0" cy="352.0" rx="11.0" ry="9.0" fill="#000"/><ellipse cx="410.0" cy="389.0" rx="8.0" ry="11.0" fill="#000"/></g>
</g></g>
<g clip-path="url(#cG3)">
<g filter="url(#tG3)">
<rect x="442" y="296" width="74" height="110" fill="#caa4d2"/>
<g filter="url(#oG3d)"><ellipse cx="492.0" cy="326.0" rx="11.0" ry="38.0" fill="#000" transform="rotate(-42 492.0 326.0)"/><ellipse cx="505.0" cy="350.0" rx="8.0" ry="20.0" fill="#000"/><ellipse cx="450.0" cy="304.0" rx="8.0" ry="4.0" fill="#000"/><ellipse cx="490.0" cy="302.0" rx="20.0" ry="4.0" fill="#000"/></g>
<g filter="url(#bl1)" opacity="0.7"><ellipse cx="462.0" cy="372.0" rx="3.5" ry="2.5" fill="#8f6cb6"/><ellipse cx="486.0" cy="364.0" rx="3.0" ry="2.5" fill="#8f6cb6"/><ellipse cx="454.0" cy="357.0" rx="4.0" ry="1.8" fill="#8f6cb6"/><ellipse cx="481.0" cy="379.0" rx="2.0" ry="3.0" fill="#8f6cb6"/><ellipse cx="503.0" cy="343.0" rx="2.5" ry="3.5" fill="#8f6cb6"/></g>
</g></g>
<text transform="translate(286.40 176.60)" font-size="10.8" font-weight="bold" stroke="#111" stroke-width="0.3">E</text>
<text transform="translate(285.60 293.70) scale(1.14 1)" font-size="11.2" font-weight="bold" stroke="#111" stroke-width="0.3">G</text>
<g transform="translate(334.80 178.20)"><text transform="translate(-11.07 0) scale(0.93 1)" font-size="8.4">Empty</text></g>
<g transform="translate(406.50 178.20)"><text transform="translate(-22.47 0) scale(0.8 1)" font-size="8.4">SETBP1</text><text transform="translate(3.70 -2.44) scale(0.97 1)" font-size="6.22">D868N</text></g>
<g transform="translate(478.60 178.20)"><text transform="translate(-8.12 0) scale(0.94 1)" font-size="8.4">Both</text></g>
<g transform="translate(334.80 295.60)"><text transform="translate(-11.07 0) scale(0.93 1)" font-size="8.4">Empty</text></g>
<g transform="translate(406.50 295.60)"><text transform="translate(-22.47 0) scale(0.8 1)" font-size="8.4">SETBP1</text><text transform="translate(3.70 -2.44) scale(0.97 1)" font-size="6.22">D868N</text></g>
<g transform="translate(478.60 295.60)"><text transform="translate(-8.12 0) scale(0.94 1)" font-size="8.4">Both</text></g>
<rect x="0.5" y="0.5" width="519" height="574" fill="none" stroke="#000" stroke-width="1.4"/>
</svg></body></html>
